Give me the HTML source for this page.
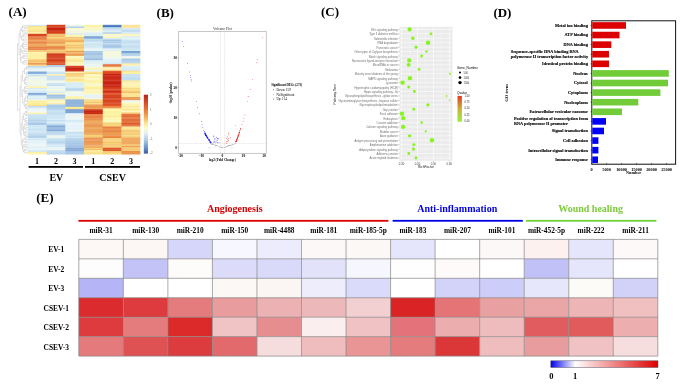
<!DOCTYPE html><html><head><meta charset="utf-8"><style>html,body{margin:0;padding:0;background:#fff;width:685px;height:386px;overflow:hidden}</style></head><body><svg width="685" height="386" viewBox="0 0 685 386" style="display:block;will-change:transform"><rect width="685" height="386" fill="#fff"/><text x="8.6" y="16.4" font-family="Liberation Serif" font-weight="bold" font-size="13">(A)</text><rect x="28" y="24.80" width="19.00" height="1.50" fill="#d2e8f3"/><rect x="28" y="26.00" width="19.00" height="1.90" fill="#fae58c"/><rect x="28" y="27.60" width="19.00" height="1.60" fill="#fdf09f"/><rect x="28" y="28.90" width="19.00" height="1.90" fill="#fce992"/><rect x="28" y="30.50" width="19.00" height="2.00" fill="#f9e28b"/><rect x="28" y="32.20" width="19.00" height="1.90" fill="#fdf2a9"/><rect x="28" y="33.80" width="19.00" height="1.55" fill="#da4522"/><rect x="28" y="35.05" width="19.00" height="1.55" fill="#d73f1e"/><rect x="28" y="36.30" width="19.00" height="1.50" fill="#e7783f"/><rect x="28" y="37.50" width="19.00" height="1.50" fill="#e77940"/><rect x="28" y="38.70" width="19.00" height="2.00" fill="#eb8f4d"/><rect x="28" y="40.40" width="19.00" height="1.90" fill="#ed9b56"/><rect x="28" y="42.00" width="19.00" height="1.50" fill="#e8854a"/><rect x="28" y="43.20" width="19.00" height="1.50" fill="#e98b4c"/><rect x="28" y="44.40" width="19.00" height="1.55" fill="#eea459"/><rect x="28" y="45.65" width="19.00" height="1.55" fill="#efa65b"/><rect x="28" y="46.90" width="19.00" height="1.90" fill="#e78147"/><rect x="28" y="48.50" width="19.00" height="2.00" fill="#e9834b"/><rect x="28" y="50.20" width="19.00" height="2.20" fill="#f7cc78"/><rect x="28" y="52.10" width="19.00" height="1.50" fill="#fdf4b4"/><rect x="28" y="53.30" width="19.00" height="1.50" fill="#fdef9f"/><rect x="28" y="54.50" width="19.00" height="1.50" fill="#fdef9e"/><rect x="28" y="55.70" width="19.00" height="1.50" fill="#fdf1a6"/><rect x="28" y="56.90" width="19.00" height="1.50" fill="#fdf0a1"/><rect x="28" y="58.10" width="19.00" height="1.50" fill="#fdee9d"/><rect x="28" y="59.30" width="19.00" height="1.67" fill="#f6c873"/><rect x="28" y="60.67" width="19.00" height="1.67" fill="#f5c26f"/><rect x="28" y="62.03" width="19.00" height="1.67" fill="#f7cf78"/><rect x="28" y="63.40" width="19.00" height="1.40" fill="#e46e3c"/><rect x="28" y="64.50" width="19.00" height="1.90" fill="#f9da88"/><rect x="28" y="66.10" width="19.00" height="1.40" fill="#bed8ec"/><rect x="28" y="67.20" width="19.00" height="1.40" fill="#c7dff0"/><rect x="28" y="68.30" width="19.00" height="1.90" fill="#e3f2f6"/><rect x="28" y="69.90" width="19.00" height="1.90" fill="#eef8f4"/><rect x="28" y="71.50" width="19.00" height="1.55" fill="#82abd9"/><rect x="28" y="72.75" width="19.00" height="1.55" fill="#8ab1dd"/><rect x="28" y="74.00" width="19.00" height="1.50" fill="#d8edf4"/><rect x="28" y="75.20" width="19.00" height="1.50" fill="#c0dcee"/><rect x="28" y="76.40" width="19.00" height="1.52" fill="#f5f9de"/><rect x="28" y="77.62" width="19.00" height="1.52" fill="#e8f5f6"/><rect x="28" y="78.85" width="19.00" height="1.52" fill="#eef8ee"/><rect x="28" y="80.08" width="19.00" height="1.52" fill="#f4f8e1"/><rect x="28" y="81.30" width="19.00" height="1.52" fill="#eff8eb"/><rect x="28" y="82.53" width="19.00" height="1.52" fill="#f2f8e5"/><rect x="28" y="83.75" width="19.00" height="1.52" fill="#f1f8e9"/><rect x="28" y="84.98" width="19.00" height="1.52" fill="#eaf7f6"/><rect x="28" y="86.20" width="19.00" height="2.10" fill="#fdf2ae"/><rect x="28" y="88.00" width="19.00" height="1.53" fill="#d2e8f6"/><rect x="28" y="89.22" width="19.00" height="1.53" fill="#e7f5f7"/><rect x="28" y="90.45" width="19.00" height="1.53" fill="#d4eaf6"/><rect x="28" y="91.68" width="19.00" height="1.53" fill="#ddeff6"/><rect x="28" y="92.90" width="19.00" height="1.55" fill="#80a8d8"/><rect x="28" y="94.15" width="19.00" height="1.55" fill="#88aedb"/><rect x="28" y="95.40" width="19.00" height="1.52" fill="#d7ebf6"/><rect x="28" y="96.62" width="19.00" height="1.52" fill="#e4f3f7"/><rect x="28" y="97.85" width="19.00" height="1.52" fill="#dbedf6"/><rect x="28" y="99.08" width="19.00" height="1.52" fill="#e6f4f7"/><rect x="28" y="100.30" width="19.00" height="1.65" fill="#fdef9e"/><rect x="28" y="101.65" width="19.00" height="1.65" fill="#fdf1a5"/><rect x="28" y="103.00" width="19.00" height="1.80" fill="#fcef99"/><rect x="28" y="104.50" width="19.00" height="1.80" fill="#fae187"/><rect x="28" y="106.00" width="19.00" height="1.50" fill="#c3dfef"/><rect x="28" y="107.20" width="19.00" height="1.50" fill="#cce5f2"/><rect x="28" y="108.40" width="19.00" height="1.67" fill="#ebf6fa"/><rect x="28" y="109.77" width="19.00" height="1.67" fill="#f1f8f2"/><rect x="28" y="111.13" width="19.00" height="1.67" fill="#f1f8f3"/><rect x="28" y="112.50" width="19.00" height="2.00" fill="#fdf3b3"/><rect x="28" y="114.20" width="19.00" height="1.75" fill="#cae3f3"/><rect x="28" y="115.65" width="19.00" height="1.75" fill="#c9e3f2"/><rect x="28" y="117.10" width="19.00" height="1.75" fill="#c4dff0"/><rect x="28" y="118.55" width="19.00" height="1.75" fill="#c1ddef"/><rect x="28" y="120.00" width="19.00" height="1.55" fill="#b5d2eb"/><rect x="28" y="121.25" width="19.00" height="1.55" fill="#bcd7ed"/><rect x="28" y="122.50" width="19.00" height="1.50" fill="#acc9e9"/><rect x="28" y="123.70" width="19.00" height="1.50" fill="#a8c6e7"/><rect x="28" y="124.90" width="19.00" height="1.52" fill="#d0e8f5"/><rect x="28" y="126.12" width="19.00" height="1.52" fill="#cee6f4"/><rect x="28" y="127.35" width="19.00" height="1.52" fill="#cde6f4"/><rect x="28" y="128.57" width="19.00" height="1.52" fill="#c9e3f2"/><rect x="28" y="129.80" width="19.00" height="1.52" fill="#cee6f4"/><rect x="28" y="131.03" width="19.00" height="1.52" fill="#d5ebf5"/><rect x="28" y="132.25" width="19.00" height="1.52" fill="#c6e0f1"/><rect x="28" y="133.47" width="19.00" height="1.52" fill="#c3def0"/><rect x="28" y="134.70" width="19.00" height="1.40" fill="#bedbef"/><rect x="28" y="135.80" width="19.00" height="1.40" fill="#b2d1eb"/><rect x="28" y="136.90" width="19.00" height="1.40" fill="#b7d5ec"/><rect x="28" y="138.00" width="19.00" height="1.53" fill="#dbeef7"/><rect x="28" y="139.22" width="19.00" height="1.53" fill="#cbe4f4"/><rect x="28" y="140.45" width="19.00" height="1.53" fill="#e7f6f7"/><rect x="28" y="141.68" width="19.00" height="1.53" fill="#e2f3f7"/><rect x="28" y="142.90" width="19.00" height="1.52" fill="#e9f5f8"/><rect x="28" y="144.12" width="19.00" height="1.52" fill="#edf6f2"/><rect x="28" y="145.33" width="19.00" height="1.52" fill="#e9f5f8"/><rect x="28" y="146.55" width="19.00" height="1.52" fill="#e1f0f7"/><rect x="28" y="147.77" width="19.00" height="1.52" fill="#e7f3f8"/><rect x="28" y="148.98" width="19.00" height="1.52" fill="#ebf6f8"/><rect x="28" y="150.20" width="19.00" height="2.00" fill="#d0e6f3"/><rect x="28" y="151.90" width="19.00" height="1.45" fill="#fdf1a3"/><rect x="28" y="153.05" width="19.00" height="1.45" fill="#fdf4af"/><rect x="46.7" y="24.80" width="19.00" height="1.55" fill="#d23c1b"/><rect x="46.7" y="26.05" width="19.00" height="1.55" fill="#db5226"/><rect x="46.7" y="27.30" width="19.00" height="1.72" fill="#c9220e"/><rect x="46.7" y="28.73" width="19.00" height="1.72" fill="#c8210e"/><rect x="46.7" y="30.15" width="19.00" height="1.72" fill="#cd2d13"/><rect x="46.7" y="31.57" width="19.00" height="1.72" fill="#d43d1b"/><rect x="46.7" y="33.00" width="19.00" height="1.40" fill="#e26434"/><rect x="46.7" y="34.10" width="19.00" height="1.80" fill="#f4c06e"/><rect x="46.7" y="35.60" width="19.00" height="1.80" fill="#f3bc6b"/><rect x="46.7" y="37.10" width="19.00" height="1.90" fill="#f8d27e"/><rect x="46.7" y="38.70" width="19.00" height="1.67" fill="#f1b764"/><rect x="46.7" y="40.07" width="19.00" height="1.67" fill="#eea85a"/><rect x="46.7" y="41.43" width="19.00" height="1.67" fill="#ec9f55"/><rect x="46.7" y="42.80" width="19.00" height="1.67" fill="#eeaa5c"/><rect x="46.7" y="44.17" width="19.00" height="1.67" fill="#f5cc72"/><rect x="46.7" y="45.53" width="19.00" height="1.67" fill="#ec9e54"/><rect x="46.7" y="46.90" width="19.00" height="1.40" fill="#e88448"/><rect x="46.7" y="48.00" width="19.00" height="1.40" fill="#ea904e"/><rect x="46.7" y="49.10" width="19.00" height="1.40" fill="#eea457"/><rect x="46.7" y="50.20" width="19.00" height="1.90" fill="#f5c674"/><rect x="46.7" y="51.80" width="19.00" height="1.90" fill="#f3bd6e"/><rect x="46.7" y="53.40" width="19.00" height="1.55" fill="#cd3017"/><rect x="46.7" y="54.65" width="19.00" height="1.55" fill="#d54421"/><rect x="46.7" y="55.90" width="19.00" height="1.55" fill="#d84923"/><rect x="46.7" y="57.15" width="19.00" height="1.55" fill="#d13a1c"/><rect x="46.7" y="58.40" width="19.00" height="1.55" fill="#d84b24"/><rect x="46.7" y="59.65" width="19.00" height="1.55" fill="#d0371b"/><rect x="46.7" y="60.90" width="19.00" height="1.55" fill="#db5127"/><rect x="46.7" y="62.15" width="19.00" height="1.55" fill="#da4f26"/><rect x="46.7" y="63.40" width="19.00" height="1.90" fill="#de582b"/><rect x="46.7" y="65.00" width="19.00" height="1.50" fill="#b2d0e8"/><rect x="46.7" y="66.20" width="19.00" height="1.50" fill="#adcce6"/><rect x="46.7" y="67.40" width="19.00" height="1.67" fill="#f2f8ea"/><rect x="46.7" y="68.77" width="19.00" height="1.67" fill="#e3f2f7"/><rect x="46.7" y="70.13" width="19.00" height="1.67" fill="#ecf7f7"/><rect x="46.7" y="71.50" width="19.00" height="1.55" fill="#cce3f2"/><rect x="46.7" y="72.75" width="19.00" height="1.55" fill="#cce3f3"/><rect x="46.7" y="74.00" width="19.00" height="1.90" fill="#fdf2b5"/><rect x="46.7" y="75.60" width="19.00" height="1.53" fill="#c6def1"/><rect x="46.7" y="76.82" width="19.00" height="1.53" fill="#cee4f4"/><rect x="46.7" y="78.05" width="19.00" height="1.53" fill="#c9e0f2"/><rect x="46.7" y="79.28" width="19.00" height="1.53" fill="#c6def1"/><rect x="46.7" y="80.50" width="19.00" height="1.55" fill="#eff8f2"/><rect x="46.7" y="81.75" width="19.00" height="1.55" fill="#f0f8ee"/><rect x="46.7" y="83.00" width="19.00" height="1.90" fill="#cee5f4"/><rect x="46.7" y="84.60" width="19.00" height="1.90" fill="#c5ddf1"/><rect x="46.7" y="86.20" width="19.00" height="1.73" fill="#edf8f3"/><rect x="46.7" y="87.63" width="19.00" height="1.73" fill="#e4f3f6"/><rect x="46.7" y="89.07" width="19.00" height="1.73" fill="#f7f9da"/><rect x="46.7" y="90.50" width="19.00" height="1.50" fill="#e7f5f7"/><rect x="46.7" y="91.70" width="19.00" height="1.50" fill="#dbedf6"/><rect x="46.7" y="92.90" width="19.00" height="1.90" fill="#fdf6c8"/><rect x="46.7" y="94.50" width="19.00" height="1.53" fill="#9ec0e2"/><rect x="46.7" y="95.72" width="19.00" height="1.53" fill="#a9c9e6"/><rect x="46.7" y="96.95" width="19.00" height="1.53" fill="#a9c9e7"/><rect x="46.7" y="98.18" width="19.00" height="1.53" fill="#b8d4eb"/><rect x="46.7" y="99.40" width="19.00" height="1.55" fill="#fdf3ac"/><rect x="46.7" y="100.65" width="19.00" height="1.55" fill="#fdf7be"/><rect x="46.7" y="101.90" width="19.00" height="1.55" fill="#f7f8d7"/><rect x="46.7" y="103.15" width="19.00" height="1.55" fill="#fcec9a"/><rect x="46.7" y="104.40" width="19.00" height="1.60" fill="#b1d1ea"/><rect x="46.7" y="105.70" width="19.00" height="1.60" fill="#a4c7e6"/><rect x="46.7" y="107.00" width="19.00" height="1.60" fill="#b1d1ea"/><rect x="46.7" y="108.30" width="19.00" height="1.60" fill="#a4c7e6"/><rect x="46.7" y="109.60" width="19.00" height="1.60" fill="#c9e3f3"/><rect x="46.7" y="110.90" width="19.00" height="1.40" fill="#c8e2f1"/><rect x="46.7" y="112.00" width="19.00" height="1.40" fill="#c4dfef"/><rect x="46.7" y="113.10" width="19.00" height="1.40" fill="#bfdbee"/><rect x="46.7" y="114.20" width="19.00" height="1.75" fill="#c4dff2"/><rect x="46.7" y="115.65" width="19.00" height="1.75" fill="#d3e9f6"/><rect x="46.7" y="117.10" width="19.00" height="1.75" fill="#c8e2f3"/><rect x="46.7" y="118.55" width="19.00" height="1.75" fill="#d9edf6"/><rect x="46.7" y="120.00" width="19.00" height="1.40" fill="#c4dff2"/><rect x="46.7" y="121.10" width="19.00" height="1.40" fill="#cde5f5"/><rect x="46.7" y="122.20" width="19.00" height="1.40" fill="#def0f7"/><rect x="46.7" y="123.30" width="19.00" height="1.50" fill="#c4ddf0"/><rect x="46.7" y="124.50" width="19.00" height="1.50" fill="#afcee9"/><rect x="46.7" y="125.70" width="19.00" height="1.73" fill="#83aad7"/><rect x="46.7" y="127.12" width="19.00" height="1.73" fill="#97badf"/><rect x="46.7" y="128.55" width="19.00" height="1.73" fill="#97badf"/><rect x="46.7" y="129.97" width="19.00" height="1.73" fill="#88aed9"/><rect x="46.7" y="131.40" width="19.00" height="1.40" fill="#bbd8ec"/><rect x="46.7" y="132.50" width="19.00" height="1.40" fill="#bbd8ec"/><rect x="46.7" y="133.60" width="19.00" height="1.40" fill="#b7d6eb"/><rect x="46.7" y="134.70" width="19.00" height="1.40" fill="#e3f1f8"/><rect x="46.7" y="135.80" width="19.00" height="1.40" fill="#f0f6ec"/><rect x="46.7" y="136.90" width="19.00" height="1.40" fill="#edf6f3"/><rect x="46.7" y="138.00" width="19.00" height="1.60" fill="#cfe7f3"/><rect x="46.7" y="139.30" width="19.00" height="1.60" fill="#bfdcee"/><rect x="46.7" y="140.60" width="19.00" height="1.60" fill="#bfdbee"/><rect x="46.7" y="141.90" width="19.00" height="1.60" fill="#b9d7ec"/><rect x="46.7" y="143.20" width="19.00" height="1.60" fill="#bfdbee"/><rect x="46.7" y="144.50" width="19.00" height="1.72" fill="#daecf7"/><rect x="46.7" y="145.93" width="19.00" height="1.72" fill="#d6e9f7"/><rect x="46.7" y="147.35" width="19.00" height="1.72" fill="#e9f5f8"/><rect x="46.7" y="148.77" width="19.00" height="1.72" fill="#eef6ef"/><rect x="46.7" y="150.20" width="19.00" height="1.63" fill="#bed9ee"/><rect x="46.7" y="151.53" width="19.00" height="1.63" fill="#c2dbef"/><rect x="46.7" y="152.87" width="19.00" height="1.63" fill="#bad5ed"/><rect x="65.4" y="24.80" width="19.00" height="2.00" fill="#eaf6ea"/><rect x="65.4" y="26.50" width="19.00" height="1.80" fill="#b1d0ea"/><rect x="65.4" y="28.00" width="19.00" height="1.55" fill="#fbf8cd"/><rect x="65.4" y="29.25" width="19.00" height="1.55" fill="#f7f7d7"/><rect x="65.4" y="30.50" width="19.00" height="1.55" fill="#f3f7df"/><rect x="65.4" y="31.75" width="19.00" height="1.55" fill="#f5f7dc"/><rect x="65.4" y="33.00" width="19.00" height="1.90" fill="#dceef4"/><rect x="65.4" y="34.60" width="19.00" height="1.55" fill="#fdf3ad"/><rect x="65.4" y="35.85" width="19.00" height="1.55" fill="#fdf6b9"/><rect x="65.4" y="37.10" width="19.00" height="1.50" fill="#f4bb69"/><rect x="65.4" y="38.30" width="19.00" height="1.50" fill="#f7cd76"/><rect x="65.4" y="39.50" width="19.00" height="1.55" fill="#f3b762"/><rect x="65.4" y="40.75" width="19.00" height="1.55" fill="#f1ae5c"/><rect x="65.4" y="42.00" width="19.00" height="1.60" fill="#f8d67d"/><rect x="65.4" y="43.30" width="19.00" height="1.60" fill="#fae08a"/><rect x="65.4" y="44.60" width="19.00" height="1.60" fill="#f4c16c"/><rect x="65.4" y="45.90" width="19.00" height="1.60" fill="#f8d57b"/><rect x="65.4" y="47.20" width="19.00" height="1.60" fill="#f2b867"/><rect x="65.4" y="48.50" width="19.00" height="1.55" fill="#fadd88"/><rect x="65.4" y="49.75" width="19.00" height="1.55" fill="#f9d781"/><rect x="65.4" y="51.00" width="19.00" height="1.55" fill="#eb9952"/><rect x="65.4" y="52.25" width="19.00" height="1.55" fill="#f2bf6a"/><rect x="65.4" y="53.50" width="19.00" height="1.55" fill="#eb9952"/><rect x="65.4" y="54.75" width="19.00" height="1.55" fill="#eea95b"/><rect x="65.4" y="56.00" width="19.00" height="1.40" fill="#fdf7be"/><rect x="65.4" y="57.10" width="19.00" height="1.40" fill="#fdf6b8"/><rect x="65.4" y="58.20" width="19.00" height="1.40" fill="#fdf1a2"/><rect x="65.4" y="59.30" width="19.00" height="1.60" fill="#fce896"/><rect x="65.4" y="60.60" width="19.00" height="1.60" fill="#fbe794"/><rect x="65.4" y="61.90" width="19.00" height="1.60" fill="#fdf6be"/><rect x="65.4" y="63.20" width="19.00" height="1.60" fill="#fdf2ab"/><rect x="65.4" y="64.50" width="19.00" height="1.60" fill="#fcf8ca"/><rect x="65.4" y="65.80" width="19.00" height="1.90" fill="#d84121"/><rect x="65.4" y="67.40" width="19.00" height="1.67" fill="#c82010"/><rect x="65.4" y="68.77" width="19.00" height="1.67" fill="#cb2814"/><rect x="65.4" y="70.13" width="19.00" height="1.67" fill="#c82010"/><rect x="65.4" y="71.50" width="19.00" height="2.00" fill="#fdf3ac"/><rect x="65.4" y="73.20" width="19.00" height="1.67" fill="#f5c170"/><rect x="65.4" y="74.57" width="19.00" height="1.67" fill="#f9d883"/><rect x="65.4" y="75.93" width="19.00" height="1.67" fill="#f9d883"/><rect x="65.4" y="77.30" width="19.00" height="1.53" fill="#fdf3ae"/><rect x="65.4" y="78.53" width="19.00" height="1.53" fill="#fae08c"/><rect x="65.4" y="79.75" width="19.00" height="1.53" fill="#fbe694"/><rect x="65.4" y="80.97" width="19.00" height="1.53" fill="#fdf0a2"/><rect x="65.4" y="82.20" width="19.00" height="1.75" fill="#daedf4"/><rect x="65.4" y="83.65" width="19.00" height="1.75" fill="#d9edf4"/><rect x="65.4" y="85.10" width="19.00" height="1.75" fill="#daedf4"/><rect x="65.4" y="86.55" width="19.00" height="1.75" fill="#d6ebf4"/><rect x="65.4" y="88.00" width="19.00" height="1.40" fill="#bedaed"/><rect x="65.4" y="89.10" width="19.00" height="1.40" fill="#b7d5eb"/><rect x="65.4" y="90.20" width="19.00" height="1.40" fill="#bbd9ec"/><rect x="65.4" y="91.30" width="19.00" height="1.53" fill="#f7f9dd"/><rect x="65.4" y="92.53" width="19.00" height="1.53" fill="#f1f8ed"/><rect x="65.4" y="93.75" width="19.00" height="1.53" fill="#eef8f3"/><rect x="65.4" y="94.97" width="19.00" height="1.53" fill="#edf8f7"/><rect x="65.4" y="96.20" width="19.00" height="1.90" fill="#fdf4af"/><rect x="65.4" y="97.80" width="19.00" height="1.90" fill="#fdf3aa"/><rect x="65.4" y="99.40" width="19.00" height="1.53" fill="#8bb0da"/><rect x="65.4" y="100.63" width="19.00" height="1.53" fill="#92b5dd"/><rect x="65.4" y="101.87" width="19.00" height="1.53" fill="#92b6dd"/><rect x="65.4" y="103.10" width="19.00" height="1.53" fill="#8aafda"/><rect x="65.4" y="104.33" width="19.00" height="1.53" fill="#89afd9"/><rect x="65.4" y="105.57" width="19.00" height="1.53" fill="#88aed9"/><rect x="65.4" y="106.80" width="19.00" height="1.55" fill="#fdf29c"/><rect x="65.4" y="108.05" width="19.00" height="1.55" fill="#fae086"/><rect x="65.4" y="109.30" width="19.00" height="1.63" fill="#6c95ce"/><rect x="65.4" y="110.63" width="19.00" height="1.63" fill="#7ea6d7"/><rect x="65.4" y="111.97" width="19.00" height="1.63" fill="#7ba4d6"/><rect x="65.4" y="113.30" width="19.00" height="1.64" fill="#e5f3f8"/><rect x="65.4" y="114.64" width="19.00" height="1.64" fill="#ebf6f7"/><rect x="65.4" y="115.98" width="19.00" height="1.64" fill="#f0f7e8"/><rect x="65.4" y="117.32" width="19.00" height="1.64" fill="#eaf6f7"/><rect x="65.4" y="118.66" width="19.00" height="1.64" fill="#e9f5f8"/><rect x="65.4" y="120.00" width="19.00" height="1.40" fill="#d3e9f6"/><rect x="65.4" y="121.10" width="19.00" height="1.40" fill="#d7ebf6"/><rect x="65.4" y="122.20" width="19.00" height="1.40" fill="#dff0f7"/><rect x="65.4" y="123.30" width="19.00" height="1.65" fill="#ebf6fa"/><rect x="65.4" y="124.65" width="19.00" height="1.65" fill="#e5f2f9"/><rect x="65.4" y="126.00" width="19.00" height="1.65" fill="#e4f2f9"/><rect x="65.4" y="127.35" width="19.00" height="1.65" fill="#e5f3f9"/><rect x="65.4" y="128.70" width="19.00" height="1.65" fill="#e3f1f9"/><rect x="65.4" y="130.05" width="19.00" height="1.65" fill="#f4f9eb"/><rect x="65.4" y="131.40" width="19.00" height="1.62" fill="#cbe4f3"/><rect x="65.4" y="132.72" width="19.00" height="1.62" fill="#c6e1f1"/><rect x="65.4" y="134.04" width="19.00" height="1.62" fill="#d3eaf5"/><rect x="65.4" y="135.36" width="19.00" height="1.62" fill="#c3def0"/><rect x="65.4" y="136.68" width="19.00" height="1.62" fill="#cde6f4"/><rect x="65.4" y="138.00" width="19.00" height="1.53" fill="#bed8ee"/><rect x="65.4" y="139.22" width="19.00" height="1.53" fill="#adcce8"/><rect x="65.4" y="140.45" width="19.00" height="1.53" fill="#adcce8"/><rect x="65.4" y="141.68" width="19.00" height="1.53" fill="#b1cfea"/><rect x="65.4" y="142.90" width="19.00" height="1.53" fill="#a8c6e7"/><rect x="65.4" y="144.12" width="19.00" height="1.53" fill="#aac8e8"/><rect x="65.4" y="145.35" width="19.00" height="1.53" fill="#96b8e0"/><rect x="65.4" y="146.58" width="19.00" height="1.53" fill="#a9c7e7"/><rect x="65.4" y="147.80" width="19.00" height="1.90" fill="#85aad7"/><rect x="65.4" y="149.40" width="19.00" height="1.90" fill="#85a9d7"/><rect x="65.4" y="151.00" width="19.00" height="1.90" fill="#a3c4e4"/><rect x="65.4" y="152.60" width="19.00" height="1.90" fill="#a5c6e5"/><rect x="84.1" y="24.80" width="19.00" height="1.55" fill="#fdf5a9"/><rect x="84.1" y="26.05" width="19.00" height="1.55" fill="#fdf19b"/><rect x="84.1" y="27.30" width="19.00" height="1.50" fill="#f8f7d3"/><rect x="84.1" y="28.50" width="19.00" height="1.50" fill="#fdf4b7"/><rect x="84.1" y="29.70" width="19.00" height="1.62" fill="#f1f8e3"/><rect x="84.1" y="31.02" width="19.00" height="1.62" fill="#f5f8da"/><rect x="84.1" y="32.34" width="19.00" height="1.62" fill="#e1f2f6"/><rect x="84.1" y="33.66" width="19.00" height="1.62" fill="#d7ecf5"/><rect x="84.1" y="34.98" width="19.00" height="1.62" fill="#e1f2f6"/><rect x="84.1" y="36.30" width="19.00" height="1.50" fill="#6694cb"/><rect x="84.1" y="37.50" width="19.00" height="1.50" fill="#7fabd8"/><rect x="84.1" y="38.70" width="19.00" height="1.40" fill="#c4dfef"/><rect x="84.1" y="39.80" width="19.00" height="1.40" fill="#bbd8ec"/><rect x="84.1" y="40.90" width="19.00" height="1.40" fill="#c7e1f0"/><rect x="84.1" y="42.00" width="19.00" height="1.60" fill="#d8edf4"/><rect x="84.1" y="43.30" width="19.00" height="1.60" fill="#c8e2f1"/><rect x="84.1" y="44.60" width="19.00" height="1.60" fill="#d0e7f4"/><rect x="84.1" y="45.90" width="19.00" height="1.60" fill="#d2e9f4"/><rect x="84.1" y="47.20" width="19.00" height="1.60" fill="#d4eaf4"/><rect x="84.1" y="48.50" width="19.00" height="1.55" fill="#ebf6f2"/><rect x="84.1" y="49.75" width="19.00" height="1.55" fill="#e8f5f5"/><rect x="84.1" y="51.00" width="19.00" height="1.60" fill="#a9c9e4"/><rect x="84.1" y="52.30" width="19.00" height="1.60" fill="#a3c4e2"/><rect x="84.1" y="53.60" width="19.00" height="1.60" fill="#a1c2e1"/><rect x="84.1" y="54.90" width="19.00" height="1.60" fill="#b3d0e8"/><rect x="84.1" y="56.20" width="19.00" height="1.60" fill="#abcae5"/><rect x="84.1" y="57.50" width="19.00" height="1.60" fill="#abcae5"/><rect x="84.1" y="58.80" width="19.00" height="1.60" fill="#9bbedf"/><rect x="84.1" y="60.10" width="19.00" height="1.50" fill="#d3e9f4"/><rect x="84.1" y="61.30" width="19.00" height="1.50" fill="#daeef4"/><rect x="84.1" y="62.50" width="19.00" height="1.53" fill="#def0f5"/><rect x="84.1" y="63.73" width="19.00" height="1.53" fill="#eff8ea"/><rect x="84.1" y="64.95" width="19.00" height="1.53" fill="#e5f4f6"/><rect x="84.1" y="66.18" width="19.00" height="1.53" fill="#ebf7f4"/><rect x="84.1" y="67.40" width="19.00" height="1.55" fill="#fdf4ba"/><rect x="84.1" y="68.65" width="19.00" height="1.55" fill="#fdf3b4"/><rect x="84.1" y="69.90" width="19.00" height="1.90" fill="#e5f4f5"/><rect x="84.1" y="71.50" width="19.00" height="1.55" fill="#fce895"/><rect x="84.1" y="72.75" width="19.00" height="1.55" fill="#f9d67e"/><rect x="84.1" y="74.00" width="19.00" height="1.67" fill="#fdf7be"/><rect x="84.1" y="75.37" width="19.00" height="1.67" fill="#fdf7c1"/><rect x="84.1" y="76.73" width="19.00" height="1.67" fill="#fdf1a3"/><rect x="84.1" y="78.10" width="19.00" height="1.67" fill="#fdf8c3"/><rect x="84.1" y="79.47" width="19.00" height="1.67" fill="#fdf5b7"/><rect x="84.1" y="80.83" width="19.00" height="1.67" fill="#fdf1a0"/><rect x="84.1" y="82.20" width="19.00" height="1.75" fill="#fdf4aa"/><rect x="84.1" y="83.65" width="19.00" height="1.75" fill="#f5f9da"/><rect x="84.1" y="85.10" width="19.00" height="1.75" fill="#fdf6b7"/><rect x="84.1" y="86.55" width="19.00" height="1.75" fill="#fdf19f"/><rect x="84.1" y="88.00" width="19.00" height="1.60" fill="#fdee9d"/><rect x="84.1" y="89.30" width="19.00" height="1.60" fill="#fdf5b4"/><rect x="84.1" y="90.60" width="19.00" height="1.60" fill="#fdf6bb"/><rect x="84.1" y="91.90" width="19.00" height="1.60" fill="#fdf5b5"/><rect x="84.1" y="93.20" width="19.00" height="1.60" fill="#fdf8c5"/><rect x="84.1" y="94.50" width="19.00" height="1.53" fill="#e6f3f4"/><rect x="84.1" y="95.72" width="19.00" height="1.53" fill="#e7f3f4"/><rect x="84.1" y="96.95" width="19.00" height="1.53" fill="#e7f3f4"/><rect x="84.1" y="98.18" width="19.00" height="1.53" fill="#eff6e8"/><rect x="84.1" y="99.40" width="19.00" height="1.55" fill="#f8d47d"/><rect x="84.1" y="100.65" width="19.00" height="1.55" fill="#fadf8b"/><rect x="84.1" y="101.90" width="19.00" height="1.55" fill="#f5c26f"/><rect x="84.1" y="103.15" width="19.00" height="1.55" fill="#fadc86"/><rect x="84.1" y="104.40" width="19.00" height="1.52" fill="#ec9a52"/><rect x="84.1" y="105.62" width="19.00" height="1.52" fill="#eb9751"/><rect x="84.1" y="106.85" width="19.00" height="1.52" fill="#ec9951"/><rect x="84.1" y="108.08" width="19.00" height="1.52" fill="#eda054"/><rect x="84.1" y="109.30" width="19.00" height="1.53" fill="#c92d13"/><rect x="84.1" y="110.53" width="19.00" height="1.53" fill="#c5220e"/><rect x="84.1" y="111.75" width="19.00" height="1.53" fill="#cb3015"/><rect x="84.1" y="112.97" width="19.00" height="1.53" fill="#c92b13"/><rect x="84.1" y="114.20" width="19.00" height="1.66" fill="#e98143"/><rect x="84.1" y="115.56" width="19.00" height="1.66" fill="#ea8545"/><rect x="84.1" y="116.92" width="19.00" height="1.66" fill="#ea8545"/><rect x="84.1" y="118.28" width="19.00" height="1.66" fill="#e98444"/><rect x="84.1" y="119.64" width="19.00" height="1.66" fill="#ef9f50"/><rect x="84.1" y="121.00" width="19.00" height="1.45" fill="#f0ad61"/><rect x="84.1" y="122.15" width="19.00" height="1.45" fill="#ed9f57"/><rect x="84.1" y="123.30" width="19.00" height="1.57" fill="#eb9b53"/><rect x="84.1" y="124.57" width="19.00" height="1.57" fill="#ea9450"/><rect x="84.1" y="125.83" width="19.00" height="1.57" fill="#eb9b53"/><rect x="84.1" y="127.10" width="19.00" height="1.57" fill="#eda357"/><rect x="84.1" y="128.37" width="19.00" height="1.57" fill="#eca055"/><rect x="84.1" y="129.63" width="19.00" height="1.57" fill="#eca356"/><rect x="84.1" y="130.90" width="19.00" height="1.57" fill="#ec9e54"/><rect x="84.1" y="132.17" width="19.00" height="1.57" fill="#eb9a52"/><rect x="84.1" y="133.43" width="19.00" height="1.57" fill="#eda458"/><rect x="84.1" y="134.70" width="19.00" height="1.40" fill="#f7d078"/><rect x="84.1" y="135.80" width="19.00" height="1.40" fill="#f8d179"/><rect x="84.1" y="136.90" width="19.00" height="1.40" fill="#f2b465"/><rect x="84.1" y="138.00" width="19.00" height="1.53" fill="#eb9453"/><rect x="84.1" y="139.22" width="19.00" height="1.53" fill="#eb9654"/><rect x="84.1" y="140.45" width="19.00" height="1.53" fill="#eb9854"/><rect x="84.1" y="141.68" width="19.00" height="1.53" fill="#ec9855"/><rect x="84.1" y="142.90" width="19.00" height="1.53" fill="#eda058"/><rect x="84.1" y="144.12" width="19.00" height="1.53" fill="#ec9a55"/><rect x="84.1" y="145.35" width="19.00" height="1.53" fill="#f0b063"/><rect x="84.1" y="146.58" width="19.00" height="1.53" fill="#eea35a"/><rect x="84.1" y="147.80" width="19.00" height="1.50" fill="#f7d377"/><rect x="84.1" y="149.00" width="19.00" height="1.50" fill="#f3bd69"/><rect x="84.1" y="150.20" width="19.00" height="1.63" fill="#fce997"/><rect x="84.1" y="151.53" width="19.00" height="1.63" fill="#fbe591"/><rect x="84.1" y="152.87" width="19.00" height="1.63" fill="#fae08b"/><rect x="102.8" y="24.80" width="19.00" height="1.55" fill="#5684c7"/><rect x="102.8" y="26.05" width="19.00" height="1.55" fill="#4674be"/><rect x="102.8" y="27.30" width="19.00" height="1.50" fill="#b9d7ec"/><rect x="102.8" y="28.50" width="19.00" height="1.50" fill="#c6e0f0"/><rect x="102.8" y="29.70" width="19.00" height="1.55" fill="#d3e9f5"/><rect x="102.8" y="30.95" width="19.00" height="1.55" fill="#e0f0f6"/><rect x="102.8" y="32.20" width="19.00" height="1.90" fill="#b4d1eb"/><rect x="102.8" y="33.80" width="19.00" height="1.67" fill="#fdf8c2"/><rect x="102.8" y="35.17" width="19.00" height="1.67" fill="#f5f9db"/><rect x="102.8" y="36.53" width="19.00" height="1.67" fill="#fdf5b3"/><rect x="102.8" y="37.90" width="19.00" height="1.90" fill="#d8ecf6"/><rect x="102.8" y="39.50" width="19.00" height="1.59" fill="#a1c2e3"/><rect x="102.8" y="40.79" width="19.00" height="1.59" fill="#b7d3eb"/><rect x="102.8" y="42.07" width="19.00" height="1.59" fill="#adcce8"/><rect x="102.8" y="43.36" width="19.00" height="1.59" fill="#c1dbef"/><rect x="102.8" y="44.64" width="19.00" height="1.59" fill="#abcae7"/><rect x="102.8" y="45.93" width="19.00" height="1.59" fill="#a5c6e5"/><rect x="102.8" y="47.21" width="19.00" height="1.59" fill="#a9c9e6"/><rect x="102.8" y="48.50" width="19.00" height="1.55" fill="#e9f6f7"/><rect x="102.8" y="49.75" width="19.00" height="1.55" fill="#dceef6"/><rect x="102.8" y="51.00" width="19.00" height="1.55" fill="#f7f8d6"/><rect x="102.8" y="52.25" width="19.00" height="1.55" fill="#f7f8d5"/><rect x="102.8" y="53.50" width="19.00" height="1.55" fill="#eff7e9"/><rect x="102.8" y="54.75" width="19.00" height="1.55" fill="#f5f8da"/><rect x="102.8" y="56.00" width="19.00" height="1.55" fill="#f1f8e3"/><rect x="102.8" y="57.25" width="19.00" height="1.55" fill="#edf7ed"/><rect x="102.8" y="58.50" width="19.00" height="1.73" fill="#e3f2f7"/><rect x="102.8" y="59.92" width="19.00" height="1.73" fill="#e1f1f6"/><rect x="102.8" y="61.35" width="19.00" height="1.73" fill="#ddeef6"/><rect x="102.8" y="62.78" width="19.00" height="1.73" fill="#d5eaf5"/><rect x="102.8" y="64.20" width="19.00" height="1.50" fill="#e57742"/><rect x="102.8" y="65.40" width="19.00" height="1.50" fill="#df5b2c"/><rect x="102.8" y="66.60" width="19.00" height="1.67" fill="#fce9a1"/><rect x="102.8" y="67.97" width="19.00" height="1.67" fill="#fcf0bc"/><rect x="102.8" y="69.33" width="19.00" height="1.67" fill="#fce9a1"/><rect x="102.8" y="70.70" width="19.00" height="1.40" fill="#e25a2e"/><rect x="102.8" y="71.80" width="19.00" height="1.40" fill="#dc4a26"/><rect x="102.8" y="72.90" width="19.00" height="1.40" fill="#db4925"/><rect x="102.8" y="74.00" width="19.00" height="1.57" fill="#c82010"/><rect x="102.8" y="75.27" width="19.00" height="1.57" fill="#c82010"/><rect x="102.8" y="76.55" width="19.00" height="1.57" fill="#c82010"/><rect x="102.8" y="77.82" width="19.00" height="1.57" fill="#cd2c16"/><rect x="102.8" y="79.09" width="19.00" height="1.57" fill="#ca2412"/><rect x="102.8" y="80.36" width="19.00" height="1.57" fill="#ca2513"/><rect x="102.8" y="81.64" width="19.00" height="1.57" fill="#c92211"/><rect x="102.8" y="82.91" width="19.00" height="1.57" fill="#c82010"/><rect x="102.8" y="84.18" width="19.00" height="1.57" fill="#c82010"/><rect x="102.8" y="85.45" width="19.00" height="1.57" fill="#c82010"/><rect x="102.8" y="86.73" width="19.00" height="1.57" fill="#d33b1d"/><rect x="102.8" y="88.00" width="19.00" height="1.59" fill="#d6401e"/><rect x="102.8" y="89.29" width="19.00" height="1.59" fill="#d94621"/><rect x="102.8" y="90.57" width="19.00" height="1.59" fill="#ce2c15"/><rect x="102.8" y="91.86" width="19.00" height="1.59" fill="#d43a1b"/><rect x="102.8" y="93.14" width="19.00" height="1.59" fill="#df5528"/><rect x="102.8" y="94.43" width="19.00" height="1.59" fill="#d6401e"/><rect x="102.8" y="95.71" width="19.00" height="1.59" fill="#da4923"/><rect x="102.8" y="97.00" width="19.00" height="1.59" fill="#d43a1b"/><rect x="102.8" y="98.29" width="19.00" height="1.59" fill="#dd4f25"/><rect x="102.8" y="99.57" width="19.00" height="1.59" fill="#d84521"/><rect x="102.8" y="100.86" width="19.00" height="1.59" fill="#d94521"/><rect x="102.8" y="102.14" width="19.00" height="1.59" fill="#d84520"/><rect x="102.8" y="103.43" width="19.00" height="1.59" fill="#db4a23"/><rect x="102.8" y="104.71" width="19.00" height="1.59" fill="#e05729"/><rect x="102.8" y="106.00" width="19.00" height="1.50" fill="#eb8643"/><rect x="102.8" y="107.20" width="19.00" height="1.50" fill="#ea8040"/><rect x="102.8" y="108.40" width="19.00" height="1.58" fill="#fdf4a1"/><rect x="102.8" y="109.68" width="19.00" height="1.58" fill="#fdf8b2"/><rect x="102.8" y="110.96" width="19.00" height="1.58" fill="#fdf29e"/><rect x="102.8" y="112.25" width="19.00" height="1.58" fill="#fcef9a"/><rect x="102.8" y="113.53" width="19.00" height="1.58" fill="#fdf5a3"/><rect x="102.8" y="114.81" width="19.00" height="1.58" fill="#fdf4a0"/><rect x="102.8" y="116.09" width="19.00" height="1.58" fill="#fbe790"/><rect x="102.8" y="117.37" width="19.00" height="1.58" fill="#fdf8b4"/><rect x="102.8" y="118.65" width="19.00" height="1.58" fill="#fdf6aa"/><rect x="102.8" y="119.94" width="19.00" height="1.58" fill="#fdfbc2"/><rect x="102.8" y="121.22" width="19.00" height="1.58" fill="#fdf7ad"/><rect x="102.8" y="122.50" width="19.00" height="1.63" fill="#f7d378"/><rect x="102.8" y="123.83" width="19.00" height="1.63" fill="#f8d57a"/><rect x="102.8" y="125.17" width="19.00" height="1.63" fill="#f7d277"/><rect x="102.8" y="126.50" width="19.00" height="1.58" fill="#e77e3e"/><rect x="102.8" y="127.78" width="19.00" height="1.58" fill="#eb9249"/><rect x="102.8" y="129.06" width="19.00" height="1.58" fill="#eb9148"/><rect x="102.8" y="130.33" width="19.00" height="1.58" fill="#e7793b"/><rect x="102.8" y="131.61" width="19.00" height="1.58" fill="#eb9148"/><rect x="102.8" y="132.89" width="19.00" height="1.58" fill="#eea14f"/><rect x="102.8" y="134.17" width="19.00" height="1.58" fill="#ea8c46"/><rect x="102.8" y="135.44" width="19.00" height="1.58" fill="#ed994c"/><rect x="102.8" y="136.72" width="19.00" height="1.58" fill="#e88040"/><rect x="102.8" y="138.00" width="19.00" height="1.53" fill="#f8d57d"/><rect x="102.8" y="139.22" width="19.00" height="1.53" fill="#f7cd76"/><rect x="102.8" y="140.45" width="19.00" height="1.53" fill="#f9d881"/><rect x="102.8" y="141.68" width="19.00" height="1.53" fill="#f5c36f"/><rect x="102.8" y="142.90" width="19.00" height="1.53" fill="#f8d37a"/><rect x="102.8" y="144.12" width="19.00" height="1.53" fill="#f5c571"/><rect x="102.8" y="145.35" width="19.00" height="1.53" fill="#f6ca74"/><rect x="102.8" y="146.58" width="19.00" height="1.53" fill="#f7cd76"/><rect x="102.8" y="147.80" width="19.00" height="1.90" fill="#dd5629"/><rect x="102.8" y="149.40" width="19.00" height="1.90" fill="#dd562a"/><rect x="102.8" y="151.00" width="19.00" height="1.90" fill="#f5c76f"/><rect x="102.8" y="152.60" width="19.00" height="1.90" fill="#f8d579"/><rect x="121.5" y="24.80" width="18.80" height="2.00" fill="#fae294"/><rect x="121.5" y="26.50" width="18.80" height="1.80" fill="#fbe69d"/><rect x="121.5" y="28.00" width="18.80" height="1.70" fill="#daecf6"/><rect x="121.5" y="29.40" width="18.80" height="1.70" fill="#c5def1"/><rect x="121.5" y="30.80" width="18.80" height="1.70" fill="#c2dcf0"/><rect x="121.5" y="32.20" width="18.80" height="1.90" fill="#d7ebf6"/><rect x="121.5" y="33.80" width="18.80" height="1.55" fill="#fdf4c4"/><rect x="121.5" y="35.05" width="18.80" height="1.55" fill="#fdf4c2"/><rect x="121.5" y="36.30" width="18.80" height="1.90" fill="#daedf6"/><rect x="121.5" y="37.90" width="18.80" height="1.90" fill="#e7f5f7"/><rect x="121.5" y="39.50" width="18.80" height="1.58" fill="#cce4f2"/><rect x="121.5" y="40.78" width="18.80" height="1.58" fill="#c8e1f1"/><rect x="121.5" y="42.06" width="18.80" height="1.58" fill="#c0dbee"/><rect x="121.5" y="43.33" width="18.80" height="1.58" fill="#cee5f3"/><rect x="121.5" y="44.61" width="18.80" height="1.58" fill="#cce4f2"/><rect x="121.5" y="45.89" width="18.80" height="1.58" fill="#c3ddef"/><rect x="121.5" y="47.17" width="18.80" height="1.58" fill="#c4deef"/><rect x="121.5" y="48.44" width="18.80" height="1.58" fill="#cce4f2"/><rect x="121.5" y="49.72" width="18.80" height="1.58" fill="#d4e9f4"/><rect x="121.5" y="51.00" width="18.80" height="1.50" fill="#73a3d3"/><rect x="121.5" y="52.20" width="18.80" height="1.50" fill="#70a0d1"/><rect x="121.5" y="53.40" width="18.80" height="1.60" fill="#b6d2eb"/><rect x="121.5" y="54.70" width="18.80" height="1.60" fill="#bad6ed"/><rect x="121.5" y="56.00" width="18.80" height="1.55" fill="#e8f4f6"/><rect x="121.5" y="57.25" width="18.80" height="1.55" fill="#f5f7dd"/><rect x="121.5" y="58.50" width="18.80" height="1.52" fill="#a8cae7"/><rect x="121.5" y="59.73" width="18.80" height="1.52" fill="#adcee9"/><rect x="121.5" y="60.95" width="18.80" height="1.52" fill="#b9d7ed"/><rect x="121.5" y="62.17" width="18.80" height="1.52" fill="#aecfe9"/><rect x="121.5" y="63.40" width="18.80" height="1.50" fill="#fdee9f"/><rect x="121.5" y="64.60" width="18.80" height="1.50" fill="#fdf4b9"/><rect x="121.5" y="65.80" width="18.80" height="1.53" fill="#ddeff6"/><rect x="121.5" y="67.03" width="18.80" height="1.53" fill="#d9ecf6"/><rect x="121.5" y="68.25" width="18.80" height="1.53" fill="#d1e7f5"/><rect x="121.5" y="69.47" width="18.80" height="1.53" fill="#d4e9f5"/><rect x="121.5" y="70.70" width="18.80" height="1.40" fill="#fbe191"/><rect x="121.5" y="71.80" width="18.80" height="1.40" fill="#fdeea4"/><rect x="121.5" y="72.90" width="18.80" height="1.40" fill="#fdeea5"/><rect x="121.5" y="74.00" width="18.80" height="1.60" fill="#c7e1f0"/><rect x="121.5" y="75.30" width="18.80" height="1.60" fill="#c4dfef"/><rect x="121.5" y="76.60" width="18.80" height="1.60" fill="#c7e2f1"/><rect x="121.5" y="77.90" width="18.80" height="1.60" fill="#bedbed"/><rect x="121.5" y="79.20" width="18.80" height="1.60" fill="#bedbed"/><rect x="121.5" y="80.50" width="18.80" height="1.55" fill="#fcea9a"/><rect x="121.5" y="81.75" width="18.80" height="1.55" fill="#fdf1ae"/><rect x="121.5" y="83.00" width="18.80" height="1.55" fill="#fdf5c0"/><rect x="121.5" y="84.25" width="18.80" height="1.55" fill="#fdf1ac"/><rect x="121.5" y="85.50" width="18.80" height="1.55" fill="#fdf2b2"/><rect x="121.5" y="86.75" width="18.80" height="1.55" fill="#fded9e"/><rect x="121.5" y="88.00" width="18.80" height="1.53" fill="#f9d882"/><rect x="121.5" y="89.22" width="18.80" height="1.53" fill="#fadc86"/><rect x="121.5" y="90.45" width="18.80" height="1.53" fill="#f8d57e"/><rect x="121.5" y="91.68" width="18.80" height="1.53" fill="#f3bb6a"/><rect x="121.5" y="92.90" width="18.80" height="1.67" fill="#fbe491"/><rect x="121.5" y="94.27" width="18.80" height="1.67" fill="#fbe38e"/><rect x="121.5" y="95.63" width="18.80" height="1.67" fill="#fbe490"/><rect x="121.5" y="97.00" width="18.80" height="1.40" fill="#ec9d57"/><rect x="121.5" y="98.10" width="18.80" height="1.40" fill="#eb9754"/><rect x="121.5" y="99.20" width="18.80" height="1.40" fill="#ea9352"/><rect x="121.5" y="100.30" width="18.80" height="1.90" fill="#ebf9f7"/><rect x="121.5" y="101.90" width="18.80" height="1.90" fill="#fcfbcd"/><rect x="121.5" y="103.50" width="18.80" height="1.59" fill="#fdf4b0"/><rect x="121.5" y="104.79" width="18.80" height="1.59" fill="#fdf5b6"/><rect x="121.5" y="106.07" width="18.80" height="1.59" fill="#fbe38f"/><rect x="121.5" y="107.36" width="18.80" height="1.59" fill="#fdf5b3"/><rect x="121.5" y="108.64" width="18.80" height="1.59" fill="#fbe794"/><rect x="121.5" y="109.93" width="18.80" height="1.59" fill="#fdf09f"/><rect x="121.5" y="111.21" width="18.80" height="1.59" fill="#fdf8c3"/><rect x="121.5" y="112.50" width="18.80" height="2.00" fill="#f4c16b"/><rect x="121.5" y="114.20" width="18.80" height="1.67" fill="#e0622f"/><rect x="121.5" y="115.57" width="18.80" height="1.67" fill="#e26b37"/><rect x="121.5" y="116.93" width="18.80" height="1.67" fill="#e78449"/><rect x="121.5" y="118.30" width="18.80" height="1.67" fill="#e36e39"/><rect x="121.5" y="119.67" width="18.80" height="1.67" fill="#e26c38"/><rect x="121.5" y="121.03" width="18.80" height="1.67" fill="#e57740"/><rect x="121.5" y="122.40" width="18.80" height="1.67" fill="#dd5628"/><rect x="121.5" y="123.77" width="18.80" height="1.67" fill="#e36d38"/><rect x="121.5" y="125.13" width="18.80" height="1.67" fill="#e36e3a"/><rect x="121.5" y="126.50" width="18.80" height="1.40" fill="#fbe393"/><rect x="121.5" y="127.60" width="18.80" height="1.40" fill="#fce799"/><rect x="121.5" y="128.70" width="18.80" height="1.40" fill="#fce799"/><rect x="121.5" y="129.80" width="18.80" height="1.67" fill="#f6c973"/><rect x="121.5" y="131.17" width="18.80" height="1.67" fill="#f5c571"/><rect x="121.5" y="132.53" width="18.80" height="1.67" fill="#f8d279"/><rect x="121.5" y="133.90" width="18.80" height="1.67" fill="#f6cb75"/><rect x="121.5" y="135.27" width="18.80" height="1.67" fill="#f9da83"/><rect x="121.5" y="136.63" width="18.80" height="1.67" fill="#f4c26f"/><rect x="121.5" y="138.00" width="18.80" height="1.60" fill="#efab60"/><rect x="121.5" y="139.30" width="18.80" height="1.60" fill="#ed9e57"/><rect x="121.5" y="140.60" width="18.80" height="1.60" fill="#f0ae61"/><rect x="121.5" y="141.90" width="18.80" height="1.60" fill="#efa85d"/><rect x="121.5" y="143.20" width="18.80" height="1.60" fill="#ed9e57"/><rect x="121.5" y="144.50" width="18.80" height="1.60" fill="#f8d57d"/><rect x="121.5" y="145.80" width="18.80" height="1.60" fill="#eea058"/><rect x="121.5" y="147.10" width="18.80" height="1.60" fill="#f5c570"/><rect x="121.5" y="148.40" width="18.80" height="1.60" fill="#f5c571"/><rect x="121.5" y="149.70" width="18.80" height="1.60" fill="#f7cf77"/><rect x="121.5" y="151.00" width="18.80" height="1.90" fill="#e99149"/><rect x="121.5" y="152.60" width="18.80" height="1.90" fill="#ea934a"/><path d="M24.27160608731979 25.739430366376205L28 25.739430366376205 M25.199669432785164 27.056248820832135L28 27.056248820832135 M25.199669432785164 28.405897522226347L28 28.405897522226347 M24.27160608731979 27.056248820832135L24.27160608731979 28.405897522226347 M24.27160608731979 27.056248820832135L25.199669432785164 27.056248820832135 M24.27160608731979 28.405897522226347L25.199669432785164 28.405897522226347 M22.499149372384746 25.739430366376205L22.499149372384746 27.73107317152924 M22.499149372384746 25.739430366376205L24.27160608731979 25.739430366376205 M22.499149372384746 27.73107317152924L24.27160608731979 27.73107317152924 M23.757518282916173 30.343223078608307L28 30.343223078608307 M23.757518282916173 32.139240815328826L28 32.139240815328826 M22.499149372384746 30.343223078608307L22.499149372384746 32.139240815328826 M22.499149372384746 30.343223078608307L23.757518282916173 30.343223078608307 M22.499149372384746 32.139240815328826L23.757518282916173 32.139240815328826 M21.807408969449007 26.735251768952722L21.807408969449007 31.24123194696857 M21.807408969449007 26.735251768952722L22.499149372384746 26.735251768952722 M21.807408969449007 31.24123194696857L22.499149372384746 31.24123194696857 M25.700429885261627 33.569439674733545L28 33.569439674733545 M25.700429885261627 35.04827017350313L28 35.04827017350313 M23.88516645526101 33.569439674733545L23.88516645526101 35.04827017350313 M23.88516645526101 33.569439674733545L25.700429885261627 33.569439674733545 M23.88516645526101 35.04827017350313L25.700429885261627 35.04827017350313 M23.88516645526101 36.978901704513675L28 36.978901704513675 M23.074303461628077 34.308854924118336L23.074303461628077 36.978901704513675 M23.074303461628077 34.308854924118336L23.88516645526101 34.308854924118336 M23.074303461628077 36.978901704513675L23.88516645526101 36.978901704513675 M24.712056060310164 39.148962445529584L28 39.148962445529584 M24.712056060310164 40.961775806827774L28 40.961775806827774 M23.074303461628077 39.148962445529584L23.074303461628077 40.961775806827774 M23.074303461628077 39.148962445529584L24.712056060310164 39.148962445529584 M23.074303461628077 40.961775806827774L24.712056060310164 40.961775806827774 M21.807408969449007 35.643878314316005L21.807408969449007 40.055369126178675 M21.807408969449007 35.643878314316005L23.074303461628077 35.643878314316005 M21.807408969449007 40.055369126178675L23.074303461628077 40.055369126178675 M20.361920915414334 28.988241857960645L20.361920915414334 37.84962372024734 M20.361920915414334 28.988241857960645L21.807408969449007 28.988241857960645 M20.361920915414334 37.84962372024734L21.807408969449007 37.84962372024734 M24.384369521225278 42.844913378101374L28 42.844913378101374 M24.384369521225278 44.46768807367197L28 44.46768807367197 M23.122520797093625 42.844913378101374L23.122520797093625 44.46768807367197 M23.122520797093625 42.844913378101374L24.384369521225278 42.844913378101374 M23.122520797093625 44.46768807367197L24.384369521225278 44.46768807367197 M24.9528587174513 46.26758254102808L28 46.26758254102808 M24.9528587174513 48.32974721144603L28 48.32974721144603 M23.122520797093625 46.26758254102808L23.122520797093625 48.32974721144603 M23.122520797093625 46.26758254102808L24.9528587174513 46.26758254102808 M23.122520797093625 48.32974721144603L24.9528587174513 48.32974721144603 M22.479104345035974 43.65630072588667L22.479104345035974 47.298664876237055 M22.479104345035974 43.65630072588667L23.122520797093625 43.65630072588667 M22.479104345035974 47.298664876237055L23.122520797093625 47.298664876237055 M26.08991475903272 49.938180117170745L28 49.938180117170745 M26.08991475903272 51.4595089591253L28 51.4595089591253 M24.3686424796534 49.938180117170745L24.3686424796534 51.4595089591253 M24.3686424796534 49.938180117170745L26.08991475903272 49.938180117170745 M24.3686424796534 51.4595089591253L26.08991475903272 51.4595089591253 M24.3686424796534 53.44303284364346L28 53.44303284364346 M22.479104345035974 50.69884453814802L22.479104345035974 53.44303284364346 M22.479104345035974 50.69884453814802L24.3686424796534 50.69884453814802 M22.479104345035974 53.44303284364346L24.3686424796534 53.44303284364346 M21.05156492893213 45.47748280106187L21.05156492893213 52.070938690895744 M21.05156492893213 45.47748280106187L22.479104345035974 45.47748280106187 M21.05156492893213 52.070938690895744L22.479104345035974 52.070938690895744 M24.60160409066808 55.21970818729132L28 55.21970818729132 M24.60160409066808 56.7595465344521L28 56.7595465344521 M23.697822372941687 55.21970818729132L23.697822372941687 56.7595465344521 M23.697822372941687 55.21970818729132L24.60160409066808 55.21970818729132 M23.697822372941687 56.7595465344521L24.60160409066808 56.7595465344521 M23.697822372941687 58.66706164324997L28 58.66706164324997 M22.96138633931846 55.98962736087171L22.96138633931846 58.66706164324997 M22.96138633931846 55.98962736087171L23.697822372941687 55.98962736087171 M22.96138633931846 58.66706164324997L23.697822372941687 58.66706164324997 M25.193449630392568 60.55935121037845L28 60.55935121037845 M25.193449630392568 62.274718907170524L28 62.274718907170524 M24.17201295259686 60.55935121037845L24.17201295259686 62.274718907170524 M24.17201295259686 60.55935121037845L25.193449630392568 60.55935121037845 M24.17201295259686 62.274718907170524L25.193449630392568 62.274718907170524 M24.17201295259686 64.03361411973225L28 64.03361411973225 M22.96138633931846 61.41703505877449L22.96138633931846 64.03361411973225 M22.96138633931846 61.41703505877449L24.17201295259686 61.41703505877449 M22.96138633931846 64.03361411973225L24.17201295259686 64.03361411973225 M21.05156492893213 57.328344502060844L21.05156492893213 62.72532458925337 M21.05156492893213 57.328344502060844L22.96138633931846 57.328344502060844 M21.05156492893213 62.72532458925337L22.96138633931846 62.72532458925337 M20.361920915414334 48.774210745978806L20.361920915414334 60.02683454565711 M20.361920915414334 48.774210745978806L21.05156492893213 48.774210745978806 M20.361920915414334 60.02683454565711L21.05156492893213 60.02683454565711 M19 33.41893278910399L19 54.40052264581796 M19 33.41893278910399L20.361920915414334 33.41893278910399 M19 54.40052264581796L20.361920915414334 54.40052264581796 M27.3 65.99181886199455L28 65.99181886199455 M27.3 67.79060581786685L28 67.79060581786685 M27.3 65.99181886199455L27.3 67.79060581786685 M27.3 65.99181886199455L27.3 65.99181886199455 M27.3 67.79060581786685L27.3 67.79060581786685 M27.3 69.76258194082442L28 69.76258194082442 M26.32572283361728 66.89121233993069L26.32572283361728 69.76258194082442 M26.32572283361728 66.89121233993069L27.3 66.89121233993069 M26.32572283361728 69.76258194082442L27.3 69.76258194082442 M27.3 71.82718179228297L28 71.82718179228297 M27.3 73.27484688667022L28 73.27484688667022 M27.3 71.82718179228297L27.3 73.27484688667022 M27.3 71.82718179228297L27.3 71.82718179228297 M27.3 73.27484688667022L27.3 73.27484688667022 M27.3 74.75553441020355L28 74.75553441020355 M26.32572283361728 72.5510143394766L26.32572283361728 74.75553441020355 M26.32572283361728 72.5510143394766L27.3 72.5510143394766 M26.32572283361728 74.75553441020355L27.3 74.75553441020355 M24.425198991937258 68.32689714037755L24.425198991937258 73.65327437484007 M24.425198991937258 68.32689714037755L26.32572283361728 68.32689714037755 M24.425198991937258 73.65327437484007L26.32572283361728 73.65327437484007 M27.3 76.39947617220233L28 76.39947617220233 M27.3 78.03288226871038L28 78.03288226871038 M26.723719262374892 76.39947617220233L26.723719262374892 78.03288226871038 M26.723719262374892 76.39947617220233L27.3 76.39947617220233 M26.723719262374892 78.03288226871038L27.3 78.03288226871038 M26.723719262374892 80.04624885017839L28 80.04624885017839 M25.320773969083096 77.21617922045635L25.320773969083096 80.04624885017839 M25.320773969083096 77.21617922045635L26.723719262374892 77.21617922045635 M25.320773969083096 80.04624885017839L26.723719262374892 80.04624885017839 M27.3 82.41360074657669L28 82.41360074657669 M27.3 84.51868194243019L28 84.51868194243019 M25.320773969083096 82.41360074657669L25.320773969083096 84.51868194243019 M25.320773969083096 82.41360074657669L27.3 82.41360074657669 M25.320773969083096 84.51868194243019L27.3 84.51868194243019 M24.425198991937258 78.63121403531737L24.425198991937258 83.46614134450344 M24.425198991937258 78.63121403531737L25.320773969083096 78.63121403531737 M24.425198991937258 83.46614134450344L25.320773969083096 83.46614134450344 M22.55931651275037 70.99008575760881L22.55931651275037 81.0486776899104 M22.55931651275037 70.99008575760881L24.425198991937258 70.99008575760881 M22.55931651275037 81.0486776899104L24.425198991937258 81.0486776899104 M26.76753012893309 86.29797432954575L28 86.29797432954575 M26.76753012893309 88.46672341611585L28 88.46672341611585 M25.091221486744807 86.29797432954575L25.091221486744807 88.46672341611585 M25.091221486744807 86.29797432954575L26.76753012893309 86.29797432954575 M25.091221486744807 88.46672341611585L26.76753012893309 88.46672341611585 M26.41600391322062 90.47475168620515L28 90.47475168620515 M26.41600391322062 91.95232229869674L28 91.95232229869674 M25.75308757232617 90.47475168620515L25.75308757232617 91.95232229869674 M25.75308757232617 90.47475168620515L26.41600391322062 90.47475168620515 M25.75308757232617 91.95232229869674L26.41600391322062 91.95232229869674 M25.75308757232617 93.57776949909362L28 93.57776949909362 M25.091221486744807 91.21353699245094L25.091221486744807 93.57776949909362 M25.091221486744807 91.21353699245094L25.75308757232617 91.21353699245094 M25.091221486744807 93.57776949909362L25.75308757232617 93.57776949909362 M24.280149962510873 87.3823488728308L24.280149962510873 92.39565324577228 M24.280149962510873 87.3823488728308L25.091221486744807 87.3823488728308 M24.280149962510873 92.39565324577228L25.091221486744807 92.39565324577228 M27.3 95.10092629147044L28 95.10092629147044 M27.3 96.42340221161851L28 96.42340221161851 M27.3 95.10092629147044L27.3 96.42340221161851 M27.3 95.10092629147044L27.3 95.10092629147044 M27.3 96.42340221161851L27.3 96.42340221161851 M27.3 97.85642667844508L28 97.85642667844508 M27.3 99.17032850710758L28 99.17032850710758 M27.3 97.85642667844508L27.3 99.17032850710758 M27.3 97.85642667844508L27.3 97.85642667844508 M27.3 99.17032850710758L27.3 99.17032850710758 M27.3 95.76216425154448L27.3 98.51337759277632 M27.3 95.76216425154448L27.3 95.76216425154448 M27.3 98.51337759277632L27.3 98.51337759277632 M27.3 100.46541149680229L28 100.46541149680229 M27.3 102.12091014663672L28 102.12091014663672 M27.3 100.46541149680229L27.3 102.12091014663672 M27.3 100.46541149680229L27.3 100.46541149680229 M27.3 102.12091014663672L27.3 102.12091014663672 M25.343485766937484 97.1377709221604L25.343485766937484 101.29316082171951 M25.343485766937484 97.1377709221604L27.3 97.1377709221604 M25.343485766937484 101.29316082171951L27.3 101.29316082171951 M27.3 103.73658987213979L28 103.73658987213979 M27.3 105.49446873034773L28 105.49446873034773 M26.162164354356474 103.73658987213979L26.162164354356474 105.49446873034773 M26.162164354356474 103.73658987213979L27.3 103.73658987213979 M26.162164354356474 105.49446873034773L27.3 105.49446873034773 M27.3 107.29840672574588L28 107.29840672574588 M27.3 108.83774512163858L28 108.83774512163858 M26.162164354356474 107.29840672574588L26.162164354356474 108.83774512163858 M26.162164354356474 107.29840672574588L27.3 107.29840672574588 M26.162164354356474 108.83774512163858L27.3 108.83774512163858 M25.343485766937484 104.61552930124375L25.343485766937484 108.06807592369222 M25.343485766937484 104.61552930124375L26.162164354356474 104.61552930124375 M25.343485766937484 108.06807592369222L26.162164354356474 108.06807592369222 M24.280149962510873 99.21546587193995L24.280149962510873 106.34180261246799 M24.280149962510873 99.21546587193995L25.343485766937484 99.21546587193995 M24.280149962510873 106.34180261246799L25.343485766937484 106.34180261246799 M22.55931651275037 89.88900105930153L22.55931651275037 102.77863424220396 M22.55931651275037 89.88900105930153L24.280149962510873 89.88900105930153 M22.55931651275037 102.77863424220396L24.280149962510873 102.77863424220396 M21.140212762382863 76.01938172375961L21.140212762382863 96.33381765075275 M21.140212762382863 76.01938172375961L22.55931651275037 76.01938172375961 M21.140212762382863 96.33381765075275L22.55931651275037 96.33381765075275 M27.3 110.88347534057704L28 110.88347534057704 M27.3 112.76597030778981L28 112.76597030778981 M26.49930679937563 110.88347534057704L26.49930679937563 112.76597030778981 M26.49930679937563 110.88347534057704L27.3 110.88347534057704 M26.49930679937563 112.76597030778981L27.3 112.76597030778981 M27.3 114.29879724044042L28 114.29879724044042 M27.3 116.05201836942491L28 116.05201836942491 M26.49930679937563 114.29879724044042L26.49930679937563 116.05201836942491 M26.49930679937563 114.29879724044042L27.3 114.29879724044042 M26.49930679937563 116.05201836942491L27.3 116.05201836942491 M25.031130209752263 111.82472282418343L25.031130209752263 115.17540780493266 M25.031130209752263 111.82472282418343L26.49930679937563 111.82472282418343 M25.031130209752263 115.17540780493266L26.49930679937563 115.17540780493266 M26.05265181539607 118.25305928273113L28 118.25305928273113 M27.3 120.67975198054306L28 120.67975198054306 M27.3 122.44935234793083L28 122.44935234793083 M26.05265181539607 120.67975198054306L26.05265181539607 122.44935234793083 M26.05265181539607 120.67975198054306L27.3 120.67975198054306 M26.05265181539607 122.44935234793083L27.3 122.44935234793083 M25.031130209752263 118.25305928273113L25.031130209752263 121.56455216423694 M25.031130209752263 118.25305928273113L26.05265181539607 118.25305928273113 M25.031130209752263 121.56455216423694L26.05265181539607 121.56455216423694 M23.597219875989506 113.50006531455804L23.597219875989506 119.90880572348404 M23.597219875989506 113.50006531455804L25.031130209752263 113.50006531455804 M23.597219875989506 119.90880572348404L25.031130209752263 119.90880572348404 M27.08732877404406 123.69069174784303L28 123.69069174784303 M27.08732877404406 125.4046386941431L28 125.4046386941431 M25.625211656215303 123.69069174784303L25.625211656215303 125.4046386941431 M25.625211656215303 123.69069174784303L27.08732877404406 123.69069174784303 M25.625211656215303 125.4046386941431L27.08732877404406 125.4046386941431 M26.309324371094114 127.53248657685094L28 127.53248657685094 M26.309324371094114 129.43017090773054L28 129.43017090773054 M25.625211656215303 127.53248657685094L25.625211656215303 129.43017090773054 M25.625211656215303 127.53248657685094L26.309324371094114 127.53248657685094 M25.625211656215303 129.43017090773054L26.309324371094114 129.43017090773054 M24.21326035689941 124.54766522099307L24.21326035689941 128.48132874229074 M24.21326035689941 124.54766522099307L25.625211656215303 124.54766522099307 M24.21326035689941 128.48132874229074L25.625211656215303 128.48132874229074 M26.55961873473227 131.31940926175758L28 131.31940926175758 M26.55961873473227 133.1534212566604L28 133.1534212566604 M25.4660109584748 131.31940926175758L25.4660109584748 133.1534212566604 M25.4660109584748 131.31940926175758L26.55961873473227 131.31940926175758 M25.4660109584748 133.1534212566604L26.55961873473227 133.1534212566604 M27.099258963427648 134.8563115379116L28 134.8563115379116 M27.099258963427648 136.4299622071428L28 136.4299622071428 M25.4660109584748 134.8563115379116L25.4660109584748 136.4299622071428 M25.4660109584748 134.8563115379116L27.099258963427648 134.8563115379116 M25.4660109584748 136.4299622071428L27.099258963427648 136.4299622071428 M24.21326035689941 132.236415259209L24.21326035689941 135.6431368725272 M24.21326035689941 132.236415259209L25.4660109584748 132.236415259209 M24.21326035689941 135.6431368725272L25.4660109584748 135.6431368725272 M23.597219875989506 126.51449698164191L23.597219875989506 133.9397760658681 M23.597219875989506 126.51449698164191L24.21326035689941 126.51449698164191 M23.597219875989506 133.9397760658681L24.21326035689941 133.9397760658681 M22.269117697559917 116.70443551902105L22.269117697559917 130.227136523755 M22.269117697559917 116.70443551902105L23.597219875989506 116.70443551902105 M22.269117697559917 130.227136523755L23.597219875989506 130.227136523755 M26.141390016695723 137.82690204225045L28 137.82690204225045 M26.141390016695723 139.49103012606884L28 139.49103012606884 M24.902553035204793 137.82690204225045L24.902553035204793 139.49103012606884 M24.902553035204793 137.82690204225045L26.141390016695723 137.82690204225045 M24.902553035204793 139.49103012606884L26.141390016695723 139.49103012606884 M25.950588575252002 141.15787031411534L28 141.15787031411534 M25.950588575252002 142.50407099720752L28 142.50407099720752 M24.902553035204793 141.15787031411534L24.902553035204793 142.50407099720752 M24.902553035204793 141.15787031411534L25.950588575252002 141.15787031411534 M24.902553035204793 142.50407099720752L25.950588575252002 142.50407099720752 M22.953925222664033 138.65896608415966L22.953925222664033 141.83097065566142 M22.953925222664033 138.65896608415966L24.902553035204793 138.65896608415966 M22.953925222664033 141.83097065566142L24.902553035204793 141.83097065566142 M25.42553425654026 144.28858849668794L28 144.28858849668794 M26.553558734400745 146.02921811468977L28 146.02921811468977 M26.553558734400745 147.3738158939233L28 147.3738158939233 M25.42553425654026 146.02921811468977L25.42553425654026 147.3738158939233 M25.42553425654026 146.02921811468977L26.553558734400745 146.02921811468977 M25.42553425654026 147.3738158939233L26.553558734400745 147.3738158939233 M23.99166414833971 144.28858849668794L23.99166414833971 146.70151700430654 M23.99166414833971 144.28858849668794L25.42553425654026 144.28858849668794 M23.99166414833971 146.70151700430654L25.42553425654026 146.70151700430654 M26.258596289702684 149.01622878806072L28 149.01622878806072 M26.258596289702684 150.72444633208738L28 150.72444633208738 M24.62935383535277 149.01622878806072L24.62935383535277 150.72444633208738 M24.62935383535277 149.01622878806072L26.258596289702684 149.01622878806072 M24.62935383535277 150.72444633208738L26.258596289702684 150.72444633208738 M24.62935383535277 152.77153139192018L28 152.77153139192018 M23.99166414833971 149.87033756007406L23.99166414833971 152.77153139192018 M23.99166414833971 149.87033756007406L24.62935383535277 149.87033756007406 M23.99166414833971 152.77153139192018L24.62935383535277 152.77153139192018 M22.953925222664033 145.49505275049722L22.953925222664033 151.32093447599712 M22.953925222664033 145.49505275049722L23.99166414833971 145.49505275049722 M22.953925222664033 151.32093447599712L23.99166414833971 151.32093447599712 M22.269117697559917 140.24496836991054L22.269117697559917 148.40799361324719 M22.269117697559917 140.24496836991054L22.953925222664033 140.24496836991054 M22.269117697559917 148.40799361324719L22.953925222664033 148.40799361324719 M21.140212762382863 123.46578602138803L21.140212762382863 144.32648099157888 M21.140212762382863 123.46578602138803L22.269117697559917 123.46578602138803 M21.140212762382863 144.32648099157888L22.269117697559917 144.32648099157888 M20 86.17659968725619L20 133.89613350648347 M20 86.17659968725619L21.140212762382863 86.17659968725619 M20 133.89613350648347L21.140212762382863 133.89613350648347 M17.5 43.909727717460974L17.5 110.03636659686983 M17.5 43.909727717460974L19 43.909727717460974 M17.5 110.03636659686983L20 110.03636659686983" stroke="#b0b0b0" stroke-width="0.4" fill="none"/><defs><linearGradient id="hg" x1="0" y1="0" x2="0" y2="1"><stop offset="0" stop-color="#b82418"/><stop offset="0.2" stop-color="#e0602e"/><stop offset="0.35" stop-color="#f0a050"/><stop offset="0.48" stop-color="#fbe48c"/><stop offset="0.57" stop-color="#fdfbd0"/><stop offset="0.65" stop-color="#e4f2f6"/><stop offset="0.78" stop-color="#a8c8e4"/><stop offset="0.9" stop-color="#6a94c8"/><stop offset="1" stop-color="#3a5aa6"/></linearGradient><linearGradient id="cg" x1="0" y1="0" x2="0" y2="1"><stop offset="0" stop-color="#e8381f"/><stop offset="0.5" stop-color="#c9b23a"/><stop offset="1" stop-color="#98f03a"/></linearGradient><linearGradient id="eg" x1="0" y1="0" x2="1" y2="0"><stop offset="0" stop-color="#0000ee"/><stop offset="0.228" stop-color="#ffffff"/><stop offset="1" stop-color="#dd0000"/></linearGradient></defs><rect x="143.8" y="94.7" width="4.2" height="58.9" fill="url(#hg)"/><text x="150" y="96" font-family="Liberation Sans" font-size="3" fill="#777">2</text><text x="150" y="110.7" font-family="Liberation Sans" font-size="3" fill="#777">1</text><text x="150" y="125" font-family="Liberation Sans" font-size="3" fill="#777">0</text><text x="150" y="140" font-family="Liberation Sans" font-size="3" fill="#777">-1</text><text x="150" y="154.2" font-family="Liberation Sans" font-size="3" fill="#777">-2</text><text x="37" y="163.9" font-family="Liberation Serif" font-weight="bold" font-size="8" text-anchor="middle">1</text><text x="56" y="163.9" font-family="Liberation Serif" font-weight="bold" font-size="8" text-anchor="middle">2</text><text x="74.6" y="163.9" font-family="Liberation Serif" font-weight="bold" font-size="8" text-anchor="middle">3</text><text x="93.3" y="163.9" font-family="Liberation Serif" font-weight="bold" font-size="8" text-anchor="middle">1</text><text x="112.2" y="163.9" font-family="Liberation Serif" font-weight="bold" font-size="8" text-anchor="middle">2</text><text x="130.9" y="163.9" font-family="Liberation Serif" font-weight="bold" font-size="8" text-anchor="middle">3</text><rect x="28.6" y="166" width="54.4" height="1.8" fill="#000"/><rect x="85" y="166" width="55" height="1.8" fill="#000"/><text x="56.4" y="181" font-family="Liberation Serif" font-weight="bold" font-size="10" text-anchor="middle">EV</text><text x="112.6" y="181" font-family="Liberation Serif" font-weight="bold" font-size="10" text-anchor="middle">CSEV</text><text x="156.6" y="16.6" font-family="Liberation Serif" font-weight="bold" font-size="13">(B)</text><rect x="178.5" y="31.5" width="87.8" height="121.9" fill="none" stroke="#c2c2c2" stroke-width="0.9"/><text x="222.4" y="29.7" font-family="Liberation Serif" font-size="3.65" text-anchor="middle" fill="#333">Volcano Plot</text><path d="M220.4 31.6V153.3M224.6 31.6V153.3M178.7 143.6H266.1" stroke="#bbb" stroke-width="0.45" stroke-dasharray="1.2 1.2" fill="none"/><path d="M180.7 153.4v1" stroke="#444" stroke-width="0.4"/><text x="180.7" y="157.3" font-family="Liberation Serif" font-weight="bold" font-size="3.6" text-anchor="middle">-20</text><path d="M201.6 153.4v1" stroke="#444" stroke-width="0.4"/><text x="201.6" y="157.3" font-family="Liberation Serif" font-weight="bold" font-size="3.6" text-anchor="middle">-10</text><path d="M222.5 153.4v1" stroke="#444" stroke-width="0.4"/><text x="222.5" y="157.3" font-family="Liberation Serif" font-weight="bold" font-size="3.6" text-anchor="middle">0</text><path d="M243.4 153.4v1" stroke="#444" stroke-width="0.4"/><text x="243.4" y="157.3" font-family="Liberation Serif" font-weight="bold" font-size="3.6" text-anchor="middle">10</text><path d="M264.3 153.4v1" stroke="#444" stroke-width="0.4"/><text x="264.3" y="157.3" font-family="Liberation Serif" font-weight="bold" font-size="3.6" text-anchor="middle">20</text><path d="M177.5 147.7h1" stroke="#444" stroke-width="0.4"/><text x="177" y="148.9" font-family="Liberation Serif" font-weight="bold" font-size="3.6" text-anchor="end">0</text><path d="M177.5 117.7h1" stroke="#444" stroke-width="0.4"/><text x="177" y="118.9" font-family="Liberation Serif" font-weight="bold" font-size="3.6" text-anchor="end">10</text><path d="M177.5 87.7h1" stroke="#444" stroke-width="0.4"/><text x="177" y="88.9" font-family="Liberation Serif" font-weight="bold" font-size="3.6" text-anchor="end">20</text><path d="M177.5 57.7h1" stroke="#444" stroke-width="0.4"/><text x="177" y="58.9" font-family="Liberation Serif" font-weight="bold" font-size="3.6" text-anchor="end">30</text><text x="222.4" y="160.9" font-family="Liberation Serif" font-weight="bold" font-size="3.3" text-anchor="middle">log2 (Fold Change)</text><text transform="translate(171.5 93) rotate(-90)" font-family="Liberation Serif" font-weight="bold" font-size="3.3" text-anchor="middle">-log10 (pvalue)</text><circle cx="182.50" cy="41.40" r="0.47" fill="#5050f0"/><circle cx="183.60" cy="46.50" r="0.47" fill="#5050f0"/><circle cx="187.40" cy="63.20" r="0.47" fill="#5050f0"/><circle cx="189.40" cy="72.00" r="0.47" fill="#5050f0"/><circle cx="190.20" cy="75.50" r="0.47" fill="#5050f0"/><circle cx="190.70" cy="77.40" r="0.47" fill="#5050f0"/><circle cx="191.10" cy="79.40" r="0.47" fill="#5050f0"/><circle cx="191.20" cy="81.00" r="0.47" fill="#5050f0"/><circle cx="196.40" cy="101.40" r="0.47" fill="#5050f0"/><circle cx="197.60" cy="107.50" r="0.47" fill="#5050f0"/><circle cx="199.40" cy="113.80" r="0.47" fill="#5050f0"/><circle cx="201.40" cy="121.50" r="0.47" fill="#5050f0"/><circle cx="202.00" cy="124.50" r="0.47" fill="#5050f0"/><circle cx="203.70" cy="130.50" r="0.47" fill="#5050f0"/><circle cx="202.80" cy="127.30" r="0.47" fill="#5050f0"/><circle cx="206.42" cy="136.56" r="0.47" fill="#1c1cee"/><circle cx="205.93" cy="135.37" r="0.47" fill="#1c1cee"/><circle cx="208.89" cy="140.39" r="0.47" fill="#1c1cee"/><circle cx="207.07" cy="136.51" r="0.47" fill="#1c1cee"/><circle cx="209.98" cy="142.01" r="0.47" fill="#1c1cee"/><circle cx="209.20" cy="140.00" r="0.47" fill="#1c1cee"/><circle cx="205.78" cy="135.29" r="0.47" fill="#1c1cee"/><circle cx="206.10" cy="135.14" r="0.47" fill="#1c1cee"/><circle cx="205.63" cy="135.02" r="0.47" fill="#1c1cee"/><circle cx="209.08" cy="139.82" r="0.47" fill="#1c1cee"/><circle cx="205.29" cy="134.31" r="0.47" fill="#1c1cee"/><circle cx="206.27" cy="135.75" r="0.47" fill="#1c1cee"/><circle cx="207.30" cy="137.93" r="0.47" fill="#1c1cee"/><circle cx="205.23" cy="134.79" r="0.47" fill="#1c1cee"/><circle cx="210.80" cy="142.35" r="0.47" fill="#1c1cee"/><circle cx="211.21" cy="142.86" r="0.47" fill="#1c1cee"/><circle cx="209.79" cy="141.18" r="0.47" fill="#1c1cee"/><circle cx="207.86" cy="138.50" r="0.47" fill="#1c1cee"/><circle cx="205.76" cy="135.37" r="0.47" fill="#1c1cee"/><circle cx="206.74" cy="135.61" r="0.47" fill="#1c1cee"/><circle cx="210.72" cy="143.02" r="0.47" fill="#1c1cee"/><circle cx="210.84" cy="142.64" r="0.47" fill="#1c1cee"/><circle cx="204.88" cy="132.00" r="0.47" fill="#1c1cee"/><circle cx="206.71" cy="136.19" r="0.47" fill="#1c1cee"/><circle cx="207.68" cy="137.58" r="0.47" fill="#1c1cee"/><circle cx="206.65" cy="136.98" r="0.47" fill="#1c1cee"/><circle cx="207.98" cy="138.05" r="0.47" fill="#1c1cee"/><circle cx="205.93" cy="135.21" r="0.47" fill="#1c1cee"/><circle cx="205.96" cy="134.97" r="0.47" fill="#1c1cee"/><circle cx="210.18" cy="141.21" r="0.47" fill="#1c1cee"/><circle cx="209.04" cy="139.41" r="0.47" fill="#1c1cee"/><circle cx="206.21" cy="135.85" r="0.47" fill="#1c1cee"/><circle cx="207.37" cy="137.83" r="0.47" fill="#1c1cee"/><circle cx="204.26" cy="131.72" r="0.47" fill="#1c1cee"/><circle cx="205.08" cy="134.40" r="0.47" fill="#1c1cee"/><circle cx="209.91" cy="142.15" r="0.47" fill="#1c1cee"/><circle cx="206.54" cy="136.22" r="0.47" fill="#1c1cee"/><circle cx="208.94" cy="139.89" r="0.47" fill="#1c1cee"/><circle cx="205.72" cy="134.50" r="0.47" fill="#1c1cee"/><circle cx="208.44" cy="138.93" r="0.47" fill="#1c1cee"/><circle cx="204.87" cy="133.24" r="0.47" fill="#1c1cee"/><circle cx="208.82" cy="139.45" r="0.47" fill="#1c1cee"/><circle cx="209.99" cy="141.55" r="0.47" fill="#1c1cee"/><circle cx="207.05" cy="137.19" r="0.47" fill="#1c1cee"/><circle cx="207.53" cy="137.52" r="0.47" fill="#1c1cee"/><circle cx="206.25" cy="135.69" r="0.47" fill="#1c1cee"/><circle cx="205.01" cy="133.17" r="0.47" fill="#1c1cee"/><circle cx="210.76" cy="142.29" r="0.47" fill="#1c1cee"/><circle cx="210.76" cy="142.37" r="0.47" fill="#1c1cee"/><circle cx="207.36" cy="138.32" r="0.47" fill="#1c1cee"/><circle cx="209.28" cy="140.44" r="0.47" fill="#1c1cee"/><circle cx="209.19" cy="140.29" r="0.47" fill="#1c1cee"/><circle cx="205.35" cy="133.24" r="0.47" fill="#1c1cee"/><circle cx="205.77" cy="133.82" r="0.47" fill="#1c1cee"/><circle cx="204.89" cy="133.87" r="0.47" fill="#1c1cee"/><circle cx="205.40" cy="135.00" r="0.47" fill="#1c1cee"/><circle cx="205.68" cy="134.09" r="0.47" fill="#1c1cee"/><circle cx="210.48" cy="142.03" r="0.47" fill="#1c1cee"/><circle cx="217.17" cy="142.50" r="0.47" fill="#3030f0"/><circle cx="216.42" cy="137.34" r="0.47" fill="#3030f0"/><circle cx="218.29" cy="138.80" r="0.47" fill="#3030f0"/><circle cx="214.98" cy="142.14" r="0.47" fill="#3030f0"/><circle cx="213.84" cy="136.73" r="0.47" fill="#3030f0"/><circle cx="217.15" cy="139.86" r="0.47" fill="#3030f0"/><circle cx="214.99" cy="138.30" r="0.47" fill="#3030f0"/><circle cx="214.81" cy="139.73" r="0.47" fill="#3030f0"/><circle cx="218.89" cy="142.76" r="0.47" fill="#3030f0"/><circle cx="214.13" cy="141.21" r="0.47" fill="#3030f0"/><circle cx="217.14" cy="140.65" r="0.47" fill="#3030f0"/><circle cx="217.55" cy="138.53" r="0.47" fill="#3030f0"/><circle cx="213.81" cy="142.74" r="0.47" fill="#3030f0"/><circle cx="216.02" cy="141.64" r="0.47" fill="#3030f0"/><circle cx="213.62" cy="135.90" r="0.47" fill="#3030f0"/><circle cx="262.60" cy="37.30" r="0.47" fill="#f05050"/><circle cx="257.50" cy="59.20" r="0.47" fill="#f05050"/><circle cx="256.80" cy="62.50" r="0.47" fill="#f05050"/><circle cx="252.60" cy="79.40" r="0.47" fill="#f05050"/><circle cx="250.40" cy="89.50" r="0.47" fill="#f05050"/><circle cx="248.80" cy="96.40" r="0.47" fill="#f05050"/><circle cx="248.10" cy="96.40" r="0.47" fill="#f05050"/><circle cx="247.60" cy="101.40" r="0.47" fill="#f05050"/><circle cx="244.90" cy="115.00" r="0.47" fill="#f05050"/><circle cx="243.90" cy="118.50" r="0.47" fill="#f05050"/><circle cx="235.60" cy="125.40" r="0.47" fill="#f05050"/><circle cx="242.00" cy="124.20" r="0.47" fill="#f05050"/><circle cx="243.20" cy="121.20" r="0.47" fill="#f05050"/><circle cx="237.39" cy="137.51" r="0.47" fill="#e82222"/><circle cx="237.25" cy="139.10" r="0.47" fill="#e82222"/><circle cx="236.79" cy="139.81" r="0.47" fill="#e82222"/><circle cx="237.36" cy="137.48" r="0.47" fill="#e82222"/><circle cx="240.66" cy="128.15" r="0.47" fill="#e82222"/><circle cx="239.74" cy="131.03" r="0.47" fill="#e82222"/><circle cx="236.21" cy="140.91" r="0.47" fill="#e82222"/><circle cx="238.18" cy="136.14" r="0.47" fill="#e82222"/><circle cx="236.35" cy="141.37" r="0.47" fill="#e82222"/><circle cx="238.26" cy="136.51" r="0.47" fill="#e82222"/><circle cx="238.72" cy="135.36" r="0.47" fill="#e82222"/><circle cx="237.99" cy="135.74" r="0.47" fill="#e82222"/><circle cx="236.90" cy="140.08" r="0.47" fill="#e82222"/><circle cx="235.84" cy="141.31" r="0.47" fill="#e82222"/><circle cx="239.13" cy="132.85" r="0.47" fill="#e82222"/><circle cx="236.27" cy="141.43" r="0.47" fill="#e82222"/><circle cx="235.82" cy="141.68" r="0.47" fill="#e82222"/><circle cx="236.43" cy="139.46" r="0.47" fill="#e82222"/><circle cx="235.98" cy="141.18" r="0.47" fill="#e82222"/><circle cx="237.67" cy="137.23" r="0.47" fill="#e82222"/><circle cx="238.88" cy="133.90" r="0.47" fill="#e82222"/><circle cx="239.68" cy="132.26" r="0.47" fill="#e82222"/><circle cx="238.64" cy="134.46" r="0.47" fill="#e82222"/><circle cx="239.38" cy="132.59" r="0.47" fill="#e82222"/><circle cx="236.12" cy="141.69" r="0.47" fill="#e82222"/><circle cx="235.44" cy="143.04" r="0.47" fill="#e82222"/><circle cx="236.42" cy="140.39" r="0.47" fill="#e82222"/><circle cx="237.35" cy="138.54" r="0.47" fill="#e82222"/><circle cx="236.90" cy="140.34" r="0.47" fill="#e82222"/><circle cx="237.53" cy="137.01" r="0.47" fill="#e82222"/><circle cx="238.98" cy="134.35" r="0.47" fill="#e82222"/><circle cx="237.41" cy="137.60" r="0.47" fill="#e82222"/><circle cx="237.04" cy="138.77" r="0.47" fill="#e82222"/><circle cx="236.87" cy="139.16" r="0.47" fill="#e82222"/><circle cx="239.89" cy="130.83" r="0.47" fill="#e82222"/><circle cx="237.49" cy="138.06" r="0.47" fill="#e82222"/><circle cx="238.11" cy="135.54" r="0.47" fill="#e82222"/><circle cx="240.57" cy="129.47" r="0.47" fill="#e82222"/><circle cx="237.93" cy="137.00" r="0.47" fill="#e82222"/><circle cx="239.23" cy="133.12" r="0.47" fill="#e82222"/><circle cx="240.57" cy="128.46" r="0.47" fill="#e82222"/><circle cx="236.39" cy="140.25" r="0.47" fill="#e82222"/><circle cx="238.57" cy="135.24" r="0.47" fill="#e82222"/><circle cx="239.07" cy="133.85" r="0.47" fill="#e82222"/><circle cx="239.01" cy="132.52" r="0.47" fill="#e82222"/><circle cx="226.29" cy="138.64" r="0.47" fill="#ec2a2a"/><circle cx="228.63" cy="140.67" r="0.47" fill="#ec2a2a"/><circle cx="226.15" cy="141.25" r="0.47" fill="#ec2a2a"/><circle cx="228.80" cy="134.10" r="0.47" fill="#ec2a2a"/><circle cx="227.26" cy="136.94" r="0.47" fill="#ec2a2a"/><circle cx="228.79" cy="133.08" r="0.47" fill="#ec2a2a"/><circle cx="226.37" cy="143.30" r="0.47" fill="#ec2a2a"/><circle cx="227.90" cy="139.58" r="0.47" fill="#ec2a2a"/><circle cx="227.26" cy="141.28" r="0.47" fill="#ec2a2a"/><circle cx="228.65" cy="138.23" r="0.47" fill="#ec2a2a"/><circle cx="230.60" cy="137.80" r="0.47" fill="#ec2a2a"/><circle cx="225.95" cy="146.93" r="0.47" fill="#b4b4b4"/><circle cx="211.46" cy="144.17" r="0.47" fill="#b4b4b4"/><circle cx="227.42" cy="146.26" r="0.47" fill="#b4b4b4"/><circle cx="224.07" cy="147.23" r="0.47" fill="#b4b4b4"/><circle cx="216.08" cy="145.59" r="0.47" fill="#b4b4b4"/><circle cx="212.30" cy="144.20" r="0.47" fill="#b4b4b4"/><circle cx="227.03" cy="146.32" r="0.47" fill="#b4b4b4"/><circle cx="225.10" cy="147.42" r="0.47" fill="#b4b4b4"/><circle cx="232.99" cy="144.23" r="0.47" fill="#b4b4b4"/><circle cx="230.58" cy="145.44" r="0.47" fill="#b4b4b4"/><circle cx="212.62" cy="144.18" r="0.47" fill="#b4b4b4"/><circle cx="217.05" cy="145.49" r="0.47" fill="#b4b4b4"/><circle cx="224.44" cy="147.59" r="0.47" fill="#b4b4b4"/><circle cx="219.22" cy="147.06" r="0.47" fill="#b4b4b4"/><circle cx="228.21" cy="145.66" r="0.47" fill="#b4b4b4"/><circle cx="232.17" cy="144.94" r="0.47" fill="#b4b4b4"/><circle cx="233.83" cy="144.56" r="0.47" fill="#b4b4b4"/><circle cx="229.30" cy="145.54" r="0.47" fill="#b4b4b4"/><circle cx="230.92" cy="145.65" r="0.47" fill="#b4b4b4"/><circle cx="232.25" cy="144.75" r="0.47" fill="#b4b4b4"/><circle cx="229.72" cy="145.56" r="0.47" fill="#b4b4b4"/><circle cx="214.04" cy="144.37" r="0.47" fill="#b4b4b4"/><circle cx="213.29" cy="144.26" r="0.47" fill="#b4b4b4"/><circle cx="215.29" cy="145.27" r="0.47" fill="#b4b4b4"/><circle cx="228.32" cy="146.03" r="0.47" fill="#b4b4b4"/><circle cx="221.62" cy="147.70" r="0.47" fill="#b4b4b4"/><circle cx="218.77" cy="146.49" r="0.47" fill="#b4b4b4"/><circle cx="229.72" cy="145.47" r="0.47" fill="#b4b4b4"/><circle cx="215.77" cy="145.85" r="0.47" fill="#b4b4b4"/><circle cx="228.82" cy="145.71" r="0.47" fill="#b4b4b4"/><circle cx="220.38" cy="147.14" r="0.47" fill="#b4b4b4"/><circle cx="225.83" cy="146.46" r="0.47" fill="#b4b4b4"/><circle cx="211.47" cy="143.80" r="0.47" fill="#b4b4b4"/><circle cx="230.35" cy="145.03" r="0.47" fill="#b4b4b4"/><circle cx="222.53" cy="147.43" r="0.47" fill="#b4b4b4"/><circle cx="216.46" cy="145.37" r="0.47" fill="#b4b4b4"/><circle cx="221.17" cy="147.06" r="0.47" fill="#b4b4b4"/><circle cx="212.07" cy="143.80" r="0.47" fill="#b4b4b4"/><circle cx="215.47" cy="145.33" r="0.47" fill="#b4b4b4"/><circle cx="212.85" cy="143.92" r="0.47" fill="#b4b4b4"/><circle cx="222.24" cy="147.69" r="0.47" fill="#b4b4b4"/><circle cx="228.42" cy="145.51" r="0.47" fill="#b4b4b4"/><circle cx="221.16" cy="147.29" r="0.47" fill="#b4b4b4"/><circle cx="212.05" cy="144.57" r="0.47" fill="#b4b4b4"/><circle cx="216.70" cy="145.38" r="0.47" fill="#b4b4b4"/><circle cx="222.88" cy="147.29" r="0.47" fill="#b4b4b4"/><circle cx="226.46" cy="146.40" r="0.47" fill="#b4b4b4"/><circle cx="214.40" cy="144.51" r="0.47" fill="#b4b4b4"/><circle cx="229.01" cy="145.56" r="0.47" fill="#b4b4b4"/><circle cx="230.47" cy="145.32" r="0.47" fill="#b4b4b4"/><circle cx="233.98" cy="144.10" r="0.47" fill="#b4b4b4"/><circle cx="217.45" cy="145.82" r="0.47" fill="#b4b4b4"/><circle cx="231.11" cy="145.28" r="0.47" fill="#b4b4b4"/><circle cx="219.74" cy="146.47" r="0.47" fill="#b4b4b4"/><circle cx="227.91" cy="146.59" r="0.47" fill="#b4b4b4"/><circle cx="215.00" cy="147.00" r="0.47" fill="#b0b0b0"/><circle cx="231.30" cy="148.00" r="0.47" fill="#b0b0b0"/><circle cx="209.00" cy="147.20" r="0.47" fill="#b0b0b0"/><circle cx="210.30" cy="147.90" r="0.47" fill="#b0b0b0"/><circle cx="233.20" cy="147.60" r="0.47" fill="#b0b0b0"/><text x="271.2" y="86" font-family="Liberation Serif" font-weight="bold" font-size="3.15">Significant DEGs (273)</text><circle cx="273.6" cy="89.7" r="0.5" fill="#3030ee"/><text x="276.5" y="90.9" font-family="Liberation Serif" font-size="3.2">Down: 159</text><circle cx="273.6" cy="94.4" r="0.5" fill="#aaa"/><text x="276.5" y="95.6" font-family="Liberation Serif" font-size="3.2">NoSignificant</text><circle cx="273.6" cy="99.1" r="0.5" fill="#ee2020"/><text x="276.5" y="100.3" font-family="Liberation Serif" font-size="3.2">Up: 114</text><text x="321" y="16.4" font-family="Liberation Serif" font-weight="bold" font-size="13">(C)</text><rect x="399.5" y="26.8" width="53.10000000000002" height="134.0" fill="#ebebeb"/><path d="M409.55 26.8V160.8 M425.45 26.8V160.8 M441.35 26.8V160.8" stroke="#f6f6f6" stroke-width="0.35"/><path d="M401.60 26.8V160.8 M417.50 26.8V160.8 M433.40 26.8V160.8 M449.30 26.8V160.8 M399.5 29.40H452.6 M399.5 33.83H452.6 M399.5 38.27H452.6 M399.5 42.70H452.6 M399.5 47.14H452.6 M399.5 51.57H452.6 M399.5 56.00H452.6 M399.5 60.44H452.6 M399.5 64.87H452.6 M399.5 69.31H452.6 M399.5 73.74H452.6 M399.5 78.17H452.6 M399.5 82.61H452.6 M399.5 87.04H452.6 M399.5 91.48H452.6 M399.5 95.91H452.6 M399.5 100.34H452.6 M399.5 104.78H452.6 M399.5 109.21H452.6 M399.5 113.65H452.6 M399.5 118.08H452.6 M399.5 122.51H452.6 M399.5 126.95H452.6 M399.5 131.38H452.6 M399.5 135.82H452.6 M399.5 140.25H452.6 M399.5 144.68H452.6 M399.5 149.12H452.6 M399.5 153.55H452.6 M399.5 157.99H452.6" stroke="#ffffff" stroke-width="0.55"/><path d="M398.3 29.40H399.5" stroke="#333" stroke-width="0.3"/><text x="397.8" y="30.90" font-family="Liberation Sans" font-size="2.68" text-anchor="end" fill="#707070">Wnt signaling pathway</text><circle cx="409.6" cy="29.40" r="2.09" fill="#86f51e"/><path d="M398.3 33.83H399.5" stroke="#333" stroke-width="0.3"/><text x="397.8" y="35.33" font-family="Liberation Sans" font-size="2.68" text-anchor="end" fill="#707070">Type II diabetes mellitus</text><circle cx="431" cy="33.83" r="1.4300000000000002" fill="#86f51e"/><path d="M398.3 38.27H399.5" stroke="#333" stroke-width="0.3"/><text x="397.8" y="39.77" font-family="Liberation Sans" font-size="2.68" text-anchor="end" fill="#707070">Salmonella infection</text><circle cx="412.9" cy="38.27" r="1.6500000000000001" fill="#86f51e"/><path d="M398.3 42.70H399.5" stroke="#333" stroke-width="0.3"/><text x="397.8" y="44.20" font-family="Liberation Sans" font-size="2.68" text-anchor="end" fill="#707070">RNA degradation</text><circle cx="428" cy="42.70" r="2.2" fill="#86f51e"/><path d="M398.3 47.14H399.5" stroke="#333" stroke-width="0.3"/><text x="397.8" y="48.64" font-family="Liberation Sans" font-size="2.68" text-anchor="end" fill="#707070">Pancreatic cancer</text><circle cx="416.1" cy="47.14" r="1.54" fill="#86f51e"/><path d="M398.3 51.57H399.5" stroke="#333" stroke-width="0.3"/><text x="397.8" y="53.07" font-family="Liberation Sans" font-size="2.68" text-anchor="end" fill="#707070">Other types of O-glycan biosynthesis</text><circle cx="426.5" cy="51.57" r="1.2100000000000002" fill="#86f51e"/><path d="M398.3 56.00H399.5" stroke="#333" stroke-width="0.3"/><text x="397.8" y="57.50" font-family="Liberation Sans" font-size="2.68" text-anchor="end" fill="#707070">Notch signaling pathway</text><circle cx="421.6" cy="56.00" r="1.4300000000000002" fill="#86f51e"/><path d="M398.3 60.44H399.5" stroke="#333" stroke-width="0.3"/><text x="397.8" y="61.94" font-family="Liberation Sans" font-size="2.68" text-anchor="end" fill="#707070">Neuroactive ligand-receptor interaction</text><circle cx="409.2" cy="60.44" r="2.09" fill="#86f51e"/><path d="M398.3 64.87H399.5" stroke="#333" stroke-width="0.3"/><text x="397.8" y="66.37" font-family="Liberation Sans" font-size="2.68" text-anchor="end" fill="#707070">MicroRNAs in cancer</text><circle cx="408.6" cy="64.87" r="1.9800000000000002" fill="#86f51e"/><path d="M398.3 69.31H399.5" stroke="#333" stroke-width="0.3"/><text x="397.8" y="70.81" font-family="Liberation Sans" font-size="2.68" text-anchor="end" fill="#707070">Melanoma</text><circle cx="419" cy="69.31" r="1.4300000000000002" fill="#86f51e"/><path d="M398.3 73.74H399.5" stroke="#333" stroke-width="0.3"/><text x="397.8" y="75.24" font-family="Liberation Sans" font-size="2.68" text-anchor="end" fill="#707070">Maturity onset diabetes of the young</text><circle cx="450" cy="73.74" r="1.1" fill="#86f51e"/><path d="M398.3 78.17H399.5" stroke="#333" stroke-width="0.3"/><text x="397.8" y="79.67" font-family="Liberation Sans" font-size="2.68" text-anchor="end" fill="#707070">MAPK signaling pathway</text><circle cx="409.9" cy="78.17" r="2.2" fill="#86f51e"/><path d="M398.3 82.61H399.5" stroke="#333" stroke-width="0.3"/><text x="397.8" y="84.11" font-family="Liberation Sans" font-size="2.68" text-anchor="end" fill="#707070">Lysosome</text><circle cx="402.6" cy="82.61" r="2.2" fill="#86f51e"/><path d="M398.3 87.04H399.5" stroke="#333" stroke-width="0.3"/><text x="397.8" y="88.54" font-family="Liberation Sans" font-size="2.68" text-anchor="end" fill="#707070">Hypertrophic cardiomyopathy (HCM)</text><circle cx="408.8" cy="87.04" r="1.54" fill="#86f51e"/><path d="M398.3 91.48H399.5" stroke="#333" stroke-width="0.3"/><text x="397.8" y="92.98" font-family="Liberation Sans" font-size="2.68" text-anchor="end" fill="#707070">Hippo signaling pathway - fly</text><circle cx="414.4" cy="91.48" r="1.4300000000000002" fill="#86f51e"/><path d="M398.3 95.91H399.5" stroke="#333" stroke-width="0.3"/><text x="397.8" y="97.41" font-family="Liberation Sans" font-size="2.68" text-anchor="end" fill="#707070">Glycosphingolipid biosynthesis - globo series</text><circle cx="446.5" cy="95.91" r="0.9900000000000001" fill="#a6f040"/><path d="M398.3 100.34H399.5" stroke="#333" stroke-width="0.3"/><text x="397.8" y="101.84" font-family="Liberation Sans" font-size="2.68" text-anchor="end" fill="#707070">Glycosaminoglycan biosynthesis - heparan sulfate</text><circle cx="449.6" cy="100.34" r="0.8800000000000001" fill="#a6f040"/><path d="M398.3 104.78H399.5" stroke="#333" stroke-width="0.3"/><text x="397.8" y="106.28" font-family="Liberation Sans" font-size="2.68" text-anchor="end" fill="#707070">Glycerophospholipid metabolism</text><circle cx="427.9" cy="104.78" r="1.6500000000000001" fill="#86f51e"/><path d="M398.3 109.21H399.5" stroke="#333" stroke-width="0.3"/><text x="397.8" y="110.71" font-family="Liberation Sans" font-size="2.68" text-anchor="end" fill="#707070">Gap junction</text><circle cx="413.8" cy="109.21" r="1.4300000000000002" fill="#86f51e"/><path d="M398.3 113.65H399.5" stroke="#333" stroke-width="0.3"/><text x="397.8" y="115.15" font-family="Liberation Sans" font-size="2.68" text-anchor="end" fill="#707070">Focal adhesion</text><circle cx="402" cy="113.65" r="2.2" fill="#86f51e"/><path d="M398.3 118.08H399.5" stroke="#333" stroke-width="0.3"/><text x="397.8" y="119.58" font-family="Liberation Sans" font-size="2.68" text-anchor="end" fill="#707070">Endocytosis</text><circle cx="403.2" cy="118.08" r="2.2" fill="#86f51e"/><path d="M398.3 122.51H399.5" stroke="#333" stroke-width="0.3"/><text x="397.8" y="124.01" font-family="Liberation Sans" font-size="2.68" text-anchor="end" fill="#707070">Cocaine addiction</text><circle cx="421.7" cy="122.51" r="1.2100000000000002" fill="#86f51e"/><path d="M398.3 126.95H399.5" stroke="#333" stroke-width="0.3"/><text x="397.8" y="128.45" font-family="Liberation Sans" font-size="2.68" text-anchor="end" fill="#707070">Calcium signaling pathway</text><circle cx="403" cy="126.95" r="2.09" fill="#86f51e"/><path d="M398.3 131.38H399.5" stroke="#333" stroke-width="0.3"/><text x="397.8" y="132.88" font-family="Liberation Sans" font-size="2.68" text-anchor="end" fill="#707070">Bladder cancer</text><circle cx="425.8" cy="131.38" r="1.1" fill="#86f51e"/><path d="M398.3 135.82H399.5" stroke="#333" stroke-width="0.3"/><text x="397.8" y="137.32" font-family="Liberation Sans" font-size="2.68" text-anchor="end" fill="#707070">Axon guidance</text><circle cx="409.6" cy="135.82" r="1.6500000000000001" fill="#86f51e"/><path d="M398.3 140.25H399.5" stroke="#333" stroke-width="0.3"/><text x="397.8" y="141.75" font-family="Liberation Sans" font-size="2.68" text-anchor="end" fill="#707070">Antigen processing and presentation</text><circle cx="432" cy="140.25" r="2.2" fill="#86f51e"/><path d="M398.3 144.68H399.5" stroke="#333" stroke-width="0.3"/><text x="397.8" y="146.18" font-family="Liberation Sans" font-size="2.68" text-anchor="end" fill="#707070">Amphetamine addiction</text><circle cx="413.8" cy="144.68" r="1.4300000000000002" fill="#86f51e"/><path d="M398.3 149.12H399.5" stroke="#333" stroke-width="0.3"/><text x="397.8" y="150.62" font-family="Liberation Sans" font-size="2.68" text-anchor="end" fill="#707070">Adipocytokine signaling pathway</text><circle cx="413.4" cy="149.12" r="1.54" fill="#86f51e"/><path d="M398.3 153.55H399.5" stroke="#333" stroke-width="0.3"/><text x="397.8" y="155.05" font-family="Liberation Sans" font-size="2.68" text-anchor="end" fill="#707070">Adherens junction</text><circle cx="408.8" cy="153.55" r="1.4300000000000002" fill="#86f51e"/><path d="M398.3 157.99H399.5" stroke="#333" stroke-width="0.3"/><text x="397.8" y="159.49" font-family="Liberation Sans" font-size="2.68" text-anchor="end" fill="#707070">Acute myeloid leukemia</text><circle cx="416" cy="157.99" r="1.4300000000000002" fill="#86f51e"/><path d="M401.60 160.8v0.9" stroke="#333" stroke-width="0.3"/><text x="401.60" y="164.5" font-family="Liberation Sans" font-size="2.8" text-anchor="middle" fill="#444">0.30</text><path d="M417.50 160.8v0.9" stroke="#333" stroke-width="0.3"/><text x="417.50" y="164.5" font-family="Liberation Sans" font-size="2.8" text-anchor="middle" fill="#444">0.40</text><path d="M433.40 160.8v0.9" stroke="#333" stroke-width="0.3"/><text x="433.40" y="164.5" font-family="Liberation Sans" font-size="2.8" text-anchor="middle" fill="#444">0.50</text><path d="M449.30 160.8v0.9" stroke="#333" stroke-width="0.3"/><text x="449.30" y="164.5" font-family="Liberation Sans" font-size="2.8" text-anchor="middle" fill="#444">0.60</text><text x="425.9" y="168.3" font-family="Liberation Sans" font-size="3.3" text-anchor="middle" fill="#222">RichFactor</text><text transform="translate(336.4 94.1) rotate(-90)" font-family="Liberation Sans" font-size="3.3" text-anchor="middle" fill="#222">Pathway Term</text><text x="457" y="69" font-family="Liberation Sans" font-size="3.2">Gene_Number</text><circle cx="460" cy="72.6" r="1.0" fill="#000"/><text x="463.5" y="73.5" font-family="Liberation Sans" font-size="2.6" fill="#333">500</text><circle cx="460" cy="77.6" r="1.35" fill="#000"/><text x="463.5" y="78.5" font-family="Liberation Sans" font-size="2.6" fill="#333">1000</text><circle cx="460" cy="82.6" r="1.7" fill="#000"/><text x="463.5" y="83.5" font-family="Liberation Sans" font-size="2.6" fill="#333">1500</text><text x="457" y="94" font-family="Liberation Sans" font-size="3.2">Qvalue</text><rect x="457.5" y="95.9" width="4.4" height="25.9" fill="url(#cg)"/><text x="464.5" y="97.2" font-family="Liberation Sans" font-size="2.6" fill="#333">1.00</text><text x="464.5" y="103.3" font-family="Liberation Sans" font-size="2.6" fill="#333">0.75</text><text x="464.5" y="109.4" font-family="Liberation Sans" font-size="2.6" fill="#333">0.50</text><text x="464.5" y="115.5" font-family="Liberation Sans" font-size="2.6" fill="#333">0.25</text><text x="464.5" y="121.6" font-family="Liberation Sans" font-size="2.6" fill="#333">0.00</text><text x="493.4" y="16.6" font-family="Liberation Serif" font-weight="bold" font-size="13">(D)</text><rect x="591.8" y="20.8" width="83.80000000000007" height="143.39999999999998" fill="none" stroke="#111" stroke-width="1.0"/><rect x="592.25" y="22.15" width="33.75" height="6.6" fill="#dc0000"/><path d="M590.5 25.45H591.8" stroke="#111" stroke-width="0.5"/><text x="587.8" y="26.85" font-family="Liberation Serif" font-weight="bold" font-size="4.3" text-anchor="end" stroke="#000" stroke-width="0.12">Metal ion binding</text><rect x="592.25" y="31.74" width="27.25" height="6.6" fill="#dc0000"/><path d="M590.5 35.04H591.8" stroke="#111" stroke-width="0.5"/><text x="587.8" y="36.44" font-family="Liberation Serif" font-weight="bold" font-size="4.3" text-anchor="end" stroke="#000" stroke-width="0.12">ATP binding</text><rect x="592.25" y="41.34" width="19.05" height="6.6" fill="#dc0000"/><path d="M590.5 44.64H591.8" stroke="#111" stroke-width="0.5"/><text x="587.8" y="46.04" font-family="Liberation Serif" font-weight="bold" font-size="4.3" text-anchor="end" stroke="#000" stroke-width="0.12">DNA binding</text><rect x="592.25" y="50.93" width="16.75" height="6.6" fill="#dc0000"/><path d="M590.5 54.23H591.8" stroke="#111" stroke-width="0.5"/><text x="510.8" y="53.03" font-family="Liberation Serif" font-weight="bold" font-size="4.3" stroke="#000" stroke-width="0.12">Sequence-specific DNA binding RNA</text><text x="510.8" y="57.53" font-family="Liberation Serif" font-weight="bold" font-size="4.3" stroke="#000" stroke-width="0.12">polymerase II transcription factor activity</text><rect x="592.25" y="60.52" width="16.75" height="6.6" fill="#dc0000"/><path d="M590.5 63.82H591.8" stroke="#111" stroke-width="0.5"/><text x="587.8" y="65.22" font-family="Liberation Serif" font-weight="bold" font-size="4.3" text-anchor="end" stroke="#000" stroke-width="0.12">Identical protein binding</text><rect x="592.25" y="70.12" width="76.55" height="6.6" fill="#72cc3a"/><path d="M590.5 73.42H591.8" stroke="#111" stroke-width="0.5"/><text x="587.8" y="74.82" font-family="Liberation Serif" font-weight="bold" font-size="4.3" text-anchor="end" stroke="#000" stroke-width="0.12">Nucleus</text><rect x="592.25" y="79.71" width="75.75" height="6.6" fill="#72cc3a"/><path d="M590.5 83.01H591.8" stroke="#111" stroke-width="0.5"/><text x="587.8" y="84.41" font-family="Liberation Serif" font-weight="bold" font-size="4.3" text-anchor="end" stroke="#000" stroke-width="0.12">Cytosol</text><rect x="592.25" y="89.30" width="68.15" height="6.6" fill="#72cc3a"/><path d="M590.5 92.60H591.8" stroke="#111" stroke-width="0.5"/><text x="587.8" y="94.00" font-family="Liberation Serif" font-weight="bold" font-size="4.3" text-anchor="end" stroke="#000" stroke-width="0.12">Cytoplasm</text><rect x="592.25" y="98.89" width="46.05" height="6.6" fill="#72cc3a"/><path d="M590.5 102.19H591.8" stroke="#111" stroke-width="0.5"/><text x="587.8" y="103.59" font-family="Liberation Serif" font-weight="bold" font-size="4.3" text-anchor="end" stroke="#000" stroke-width="0.12">Nucleoplasm</text><rect x="592.25" y="108.49" width="29.75" height="6.6" fill="#72cc3a"/><path d="M590.5 111.79H591.8" stroke="#111" stroke-width="0.5"/><text x="587.8" y="113.19" font-family="Liberation Serif" font-weight="bold" font-size="4.3" text-anchor="end" stroke="#000" stroke-width="0.12">Extracellular vesicular exosome</text><rect x="592.25" y="118.08" width="13.75" height="6.6" fill="#0000fa"/><path d="M590.5 121.38H591.8" stroke="#111" stroke-width="0.5"/><text x="513.9" y="120.18" font-family="Liberation Serif" font-weight="bold" font-size="4.3" stroke="#000" stroke-width="0.12">Positive regulation of transcription from</text><text x="513.9" y="124.68" font-family="Liberation Serif" font-weight="bold" font-size="4.3" stroke="#000" stroke-width="0.12">RNA polymerase II promoter</text><rect x="592.25" y="127.67" width="11.75" height="6.6" fill="#0000fa"/><path d="M590.5 130.97H591.8" stroke="#111" stroke-width="0.5"/><text x="587.8" y="132.37" font-family="Liberation Serif" font-weight="bold" font-size="4.3" text-anchor="end" stroke="#000" stroke-width="0.12">Signal transduction</text><rect x="592.25" y="137.27" width="6.15" height="6.6" fill="#0000fa"/><path d="M590.5 140.57H591.8" stroke="#111" stroke-width="0.5"/><text x="587.8" y="141.97" font-family="Liberation Serif" font-weight="bold" font-size="4.3" text-anchor="end" stroke="#000" stroke-width="0.12">Cell adhesion</text><rect x="592.25" y="146.86" width="6.15" height="6.6" fill="#0000fa"/><path d="M590.5 150.16H591.8" stroke="#111" stroke-width="0.5"/><text x="587.8" y="151.56" font-family="Liberation Serif" font-weight="bold" font-size="4.3" text-anchor="end" stroke="#000" stroke-width="0.12">Intracellular signal transduction</text><rect x="592.25" y="156.45" width="5.75" height="6.6" fill="#0000fa"/><path d="M590.5 159.75H591.8" stroke="#111" stroke-width="0.5"/><text x="587.8" y="161.15" font-family="Liberation Serif" font-weight="bold" font-size="4.3" text-anchor="end" stroke="#000" stroke-width="0.12">Immune response</text><path d="M591.6 164.2v-1.3" stroke="#111" stroke-width="0.5"/><text x="591.6" y="170.6" font-family="Liberation Serif" font-weight="bold" font-size="4.3" text-anchor="middle">0</text><path d="M606.6 164.2v-1.3" stroke="#111" stroke-width="0.5"/><text x="606.6" y="170.6" font-family="Liberation Serif" font-weight="bold" font-size="4.3" text-anchor="middle">5000</text><path d="M621.6 164.2v-1.3" stroke="#111" stroke-width="0.5"/><text x="621.6" y="170.6" font-family="Liberation Serif" font-weight="bold" font-size="4.3" text-anchor="middle">10000</text><path d="M636.6 164.2v-1.3" stroke="#111" stroke-width="0.5"/><text x="636.6" y="170.6" font-family="Liberation Serif" font-weight="bold" font-size="4.3" text-anchor="middle">15000</text><path d="M651.6 164.2v-1.3" stroke="#111" stroke-width="0.5"/><text x="651.6" y="170.6" font-family="Liberation Serif" font-weight="bold" font-size="4.3" text-anchor="middle">20000</text><path d="M666.6 164.2v-1.3" stroke="#111" stroke-width="0.5"/><text x="666.6" y="170.6" font-family="Liberation Serif" font-weight="bold" font-size="4.3" text-anchor="middle">25000</text><text x="633.6" y="174.3" font-family="Liberation Serif" font-weight="bold" font-size="4.3" text-anchor="middle">Number</text><text transform="translate(507.8 93) rotate(-90)" font-family="Liberation Serif" font-weight="bold" font-size="4.6" text-anchor="middle">GO term</text><text x="36.2" y="201.9" font-family="Liberation Serif" font-weight="bold" font-size="13">(E)</text><rect x="78.80" y="239.40" width="44.54" height="19.45" fill="#fdf7f6"/><rect x="123.34" y="239.40" width="44.54" height="19.45" fill="#fcf7f5"/><rect x="167.88" y="239.40" width="44.54" height="19.45" fill="#d6d6fa"/><rect x="212.42" y="239.40" width="44.54" height="19.45" fill="#f7f7ff"/><rect x="256.96" y="239.40" width="44.54" height="19.45" fill="#ececfc"/><rect x="301.50" y="239.40" width="44.54" height="19.45" fill="#fcf8f7"/><rect x="346.04" y="239.40" width="44.54" height="19.45" fill="#fcf8f6"/><rect x="390.58" y="239.40" width="44.54" height="19.45" fill="#e5e5fc"/><rect x="435.12" y="239.40" width="44.54" height="19.45" fill="#ffffff"/><rect x="479.66" y="239.40" width="44.54" height="19.45" fill="#fcf8f7"/><rect x="524.20" y="239.40" width="44.54" height="19.45" fill="#fcf1ef"/><rect x="568.74" y="239.40" width="44.54" height="19.45" fill="#e5e5fb"/><rect x="613.28" y="239.40" width="44.54" height="19.45" fill="#fcf9f8"/><rect x="78.80" y="258.85" width="44.54" height="19.45" fill="#fefdfd"/><rect x="123.34" y="258.85" width="44.54" height="19.45" fill="#c3c3f8"/><rect x="167.88" y="258.85" width="44.54" height="19.45" fill="#fefcfb"/><rect x="212.42" y="258.85" width="44.54" height="19.45" fill="#dcdcfa"/><rect x="256.96" y="258.85" width="44.54" height="19.45" fill="#d9d9fa"/><rect x="301.50" y="258.85" width="44.54" height="19.45" fill="#e2e2fb"/><rect x="346.04" y="258.85" width="44.54" height="19.45" fill="#f6f7fe"/><rect x="390.58" y="258.85" width="44.54" height="19.45" fill="#fefefe"/><rect x="435.12" y="258.85" width="44.54" height="19.45" fill="#fdfaf9"/><rect x="479.66" y="258.85" width="44.54" height="19.45" fill="#ffffff"/><rect x="524.20" y="258.85" width="44.54" height="19.45" fill="#c1c1f8"/><rect x="568.74" y="258.85" width="44.54" height="19.45" fill="#e5e5fc"/><rect x="613.28" y="258.85" width="44.54" height="19.45" fill="#ffffff"/><rect x="78.80" y="278.30" width="44.54" height="19.45" fill="#b4b4f6"/><rect x="123.34" y="278.30" width="44.54" height="19.45" fill="#ffffff"/><rect x="167.88" y="278.30" width="44.54" height="19.45" fill="#ffffff"/><rect x="212.42" y="278.30" width="44.54" height="19.45" fill="#fcf8f6"/><rect x="256.96" y="278.30" width="44.54" height="19.45" fill="#fbf6f4"/><rect x="301.50" y="278.30" width="44.54" height="19.45" fill="#ededfc"/><rect x="346.04" y="278.30" width="44.54" height="19.45" fill="#dadafa"/><rect x="390.58" y="278.30" width="44.54" height="19.45" fill="#ffffff"/><rect x="435.12" y="278.30" width="44.54" height="19.45" fill="#d3d3f9"/><rect x="479.66" y="278.30" width="44.54" height="19.45" fill="#cdcdf9"/><rect x="524.20" y="278.30" width="44.54" height="19.45" fill="#e7e7fc"/><rect x="568.74" y="278.30" width="44.54" height="19.45" fill="#fdfbf8"/><rect x="613.28" y="278.30" width="44.54" height="19.45" fill="#d2d2f9"/><rect x="78.80" y="297.75" width="44.54" height="19.45" fill="#dc2b2e"/><rect x="123.34" y="297.75" width="44.54" height="19.45" fill="#dd3b3d"/><rect x="167.88" y="297.75" width="44.54" height="19.45" fill="#e47b7c"/><rect x="212.42" y="297.75" width="44.54" height="19.45" fill="#e89c9d"/><rect x="256.96" y="297.75" width="44.54" height="19.45" fill="#ecb1b2"/><rect x="301.50" y="297.75" width="44.54" height="19.45" fill="#edb8b9"/><rect x="346.04" y="297.75" width="44.54" height="19.45" fill="#f2d0d1"/><rect x="390.58" y="297.75" width="44.54" height="19.45" fill="#d92324"/><rect x="435.12" y="297.75" width="44.54" height="19.45" fill="#e47475"/><rect x="479.66" y="297.75" width="44.54" height="19.45" fill="#e9a0a1"/><rect x="524.20" y="297.75" width="44.54" height="19.45" fill="#eaa6a7"/><rect x="568.74" y="297.75" width="44.54" height="19.45" fill="#edb5b6"/><rect x="613.28" y="297.75" width="44.54" height="19.45" fill="#f0c0c1"/><rect x="78.80" y="317.20" width="44.54" height="19.45" fill="#de3b3e"/><rect x="123.34" y="317.20" width="44.54" height="19.45" fill="#e47c7d"/><rect x="167.88" y="317.20" width="44.54" height="19.45" fill="#dc2a2b"/><rect x="212.42" y="317.20" width="44.54" height="19.45" fill="#f0c3c4"/><rect x="256.96" y="317.20" width="44.54" height="19.45" fill="#e68e8f"/><rect x="301.50" y="317.20" width="44.54" height="19.45" fill="#fbeeee"/><rect x="346.04" y="317.20" width="44.54" height="19.45" fill="#f0c2c3"/><rect x="390.58" y="317.20" width="44.54" height="19.45" fill="#e4727a"/><rect x="435.12" y="317.20" width="44.54" height="19.45" fill="#ecadae"/><rect x="479.66" y="317.20" width="44.54" height="19.45" fill="#efbcbd"/><rect x="524.20" y="317.20" width="44.54" height="19.45" fill="#e15c5e"/><rect x="568.74" y="317.20" width="44.54" height="19.45" fill="#e15a5c"/><rect x="613.28" y="317.20" width="44.54" height="19.45" fill="#ecaeaf"/><rect x="78.80" y="336.65" width="44.54" height="19.45" fill="#e47a7c"/><rect x="123.34" y="336.65" width="44.54" height="19.45" fill="#df5254"/><rect x="167.88" y="336.65" width="44.54" height="19.45" fill="#dc3c3e"/><rect x="212.42" y="336.65" width="44.54" height="19.45" fill="#e36a6c"/><rect x="256.96" y="336.65" width="44.54" height="19.45" fill="#f5dddd"/><rect x="301.50" y="336.65" width="44.54" height="19.45" fill="#efbdbe"/><rect x="346.04" y="336.65" width="44.54" height="19.45" fill="#e99596"/><rect x="390.58" y="336.65" width="44.54" height="19.45" fill="#e47b7c"/><rect x="435.12" y="336.65" width="44.54" height="19.45" fill="#dc3738"/><rect x="479.66" y="336.65" width="44.54" height="19.45" fill="#efbdbe"/><rect x="524.20" y="336.65" width="44.54" height="19.45" fill="#e89c9d"/><rect x="568.74" y="336.65" width="44.54" height="19.45" fill="#f0c2c3"/><rect x="613.28" y="336.65" width="44.54" height="19.45" fill="#f7dede"/><path d="M78.80 239.4V356.10 M123.34 239.4V356.10 M167.88 239.4V356.10 M212.42 239.4V356.10 M256.96 239.4V356.10 M301.50 239.4V356.10 M346.04 239.4V356.10 M390.58 239.4V356.10 M435.12 239.4V356.10 M479.66 239.4V356.10 M524.20 239.4V356.10 M568.74 239.4V356.10 M613.28 239.4V356.10 M657.82 239.4V356.10 M78.8 239.40H657.82 M78.8 258.85H657.82 M78.8 278.30H657.82 M78.8 297.75H657.82 M78.8 317.20H657.82 M78.8 336.65H657.82 M78.8 356.10H657.82" stroke="#858585" stroke-width="0.7" fill="none"/><text x="101.07" y="233" font-family="Liberation Serif" font-weight="bold" font-size="7.35" text-anchor="middle">miR-31</text><text x="145.61" y="233" font-family="Liberation Serif" font-weight="bold" font-size="7.35" text-anchor="middle">miR-130</text><text x="190.15" y="233" font-family="Liberation Serif" font-weight="bold" font-size="7.35" text-anchor="middle">miR-210</text><text x="234.69" y="233" font-family="Liberation Serif" font-weight="bold" font-size="7.35" text-anchor="middle">miR-150</text><text x="279.23" y="233" font-family="Liberation Serif" font-weight="bold" font-size="7.35" text-anchor="middle">miR-4488</text><text x="323.77" y="233" font-family="Liberation Serif" font-weight="bold" font-size="7.35" text-anchor="middle">miR-181</text><text x="368.31" y="233" font-family="Liberation Serif" font-weight="bold" font-size="7.35" text-anchor="middle">miR-185-5p</text><text x="412.85" y="233" font-family="Liberation Serif" font-weight="bold" font-size="7.35" text-anchor="middle">miR-183</text><text x="457.39" y="233" font-family="Liberation Serif" font-weight="bold" font-size="7.35" text-anchor="middle">miR-207</text><text x="501.93" y="233" font-family="Liberation Serif" font-weight="bold" font-size="7.35" text-anchor="middle">miR-101</text><text x="546.47" y="233" font-family="Liberation Serif" font-weight="bold" font-size="7.35" text-anchor="middle">miR-452-5p</text><text x="591.01" y="233" font-family="Liberation Serif" font-weight="bold" font-size="7.35" text-anchor="middle">miR-222</text><text x="635.55" y="233" font-family="Liberation Serif" font-weight="bold" font-size="7.35" text-anchor="middle">miR-211</text><text x="56.3" y="252.43" font-family="Liberation Serif" font-weight="bold" font-size="7.45" text-anchor="middle">EV-1</text><text x="56.3" y="271.88" font-family="Liberation Serif" font-weight="bold" font-size="7.45" text-anchor="middle">EV-2</text><text x="56.3" y="291.32" font-family="Liberation Serif" font-weight="bold" font-size="7.45" text-anchor="middle">EV-3</text><text x="56.3" y="310.78" font-family="Liberation Serif" font-weight="bold" font-size="7.45" text-anchor="middle">CSEV-1</text><text x="56.3" y="330.23" font-family="Liberation Serif" font-weight="bold" font-size="7.45" text-anchor="middle">CSEV-2</text><text x="56.3" y="349.68" font-family="Liberation Serif" font-weight="bold" font-size="7.45" text-anchor="middle">CSEV-3</text><rect x="78.4" y="219.9" width="310" height="1.8" fill="#dc0000"/><rect x="392.6" y="219.9" width="130.2" height="1.8" fill="#0000e8"/><rect x="526" y="219.9" width="130.4" height="1.8" fill="#6fd23a"/><text x="234.8" y="212.2" font-family="Liberation Serif" font-weight="bold" font-size="10" text-anchor="middle" fill="#d40000">Angiogenesis</text><text x="457.2" y="211.8" font-family="Liberation Serif" font-weight="bold" font-size="10" text-anchor="middle" fill="#0000e6">Anti-inflammation</text><text x="590.6" y="211.8" font-family="Liberation Serif" font-weight="bold" font-size="10" text-anchor="middle" fill="#7ccb3a">Wound healing</text><rect x="550.8" y="360.8" width="107.2" height="6.7" fill="url(#eg)" stroke="#556" stroke-width="0.5"/><text x="551.4" y="379.2" font-family="Liberation Serif" font-weight="bold" font-size="8.5" text-anchor="middle">0</text><text x="575.1" y="379.2" font-family="Liberation Serif" font-weight="bold" font-size="8.5" text-anchor="middle">1</text><text x="657.6" y="379.2" font-family="Liberation Serif" font-weight="bold" font-size="8.5" text-anchor="middle">7</text></svg></body></html>
